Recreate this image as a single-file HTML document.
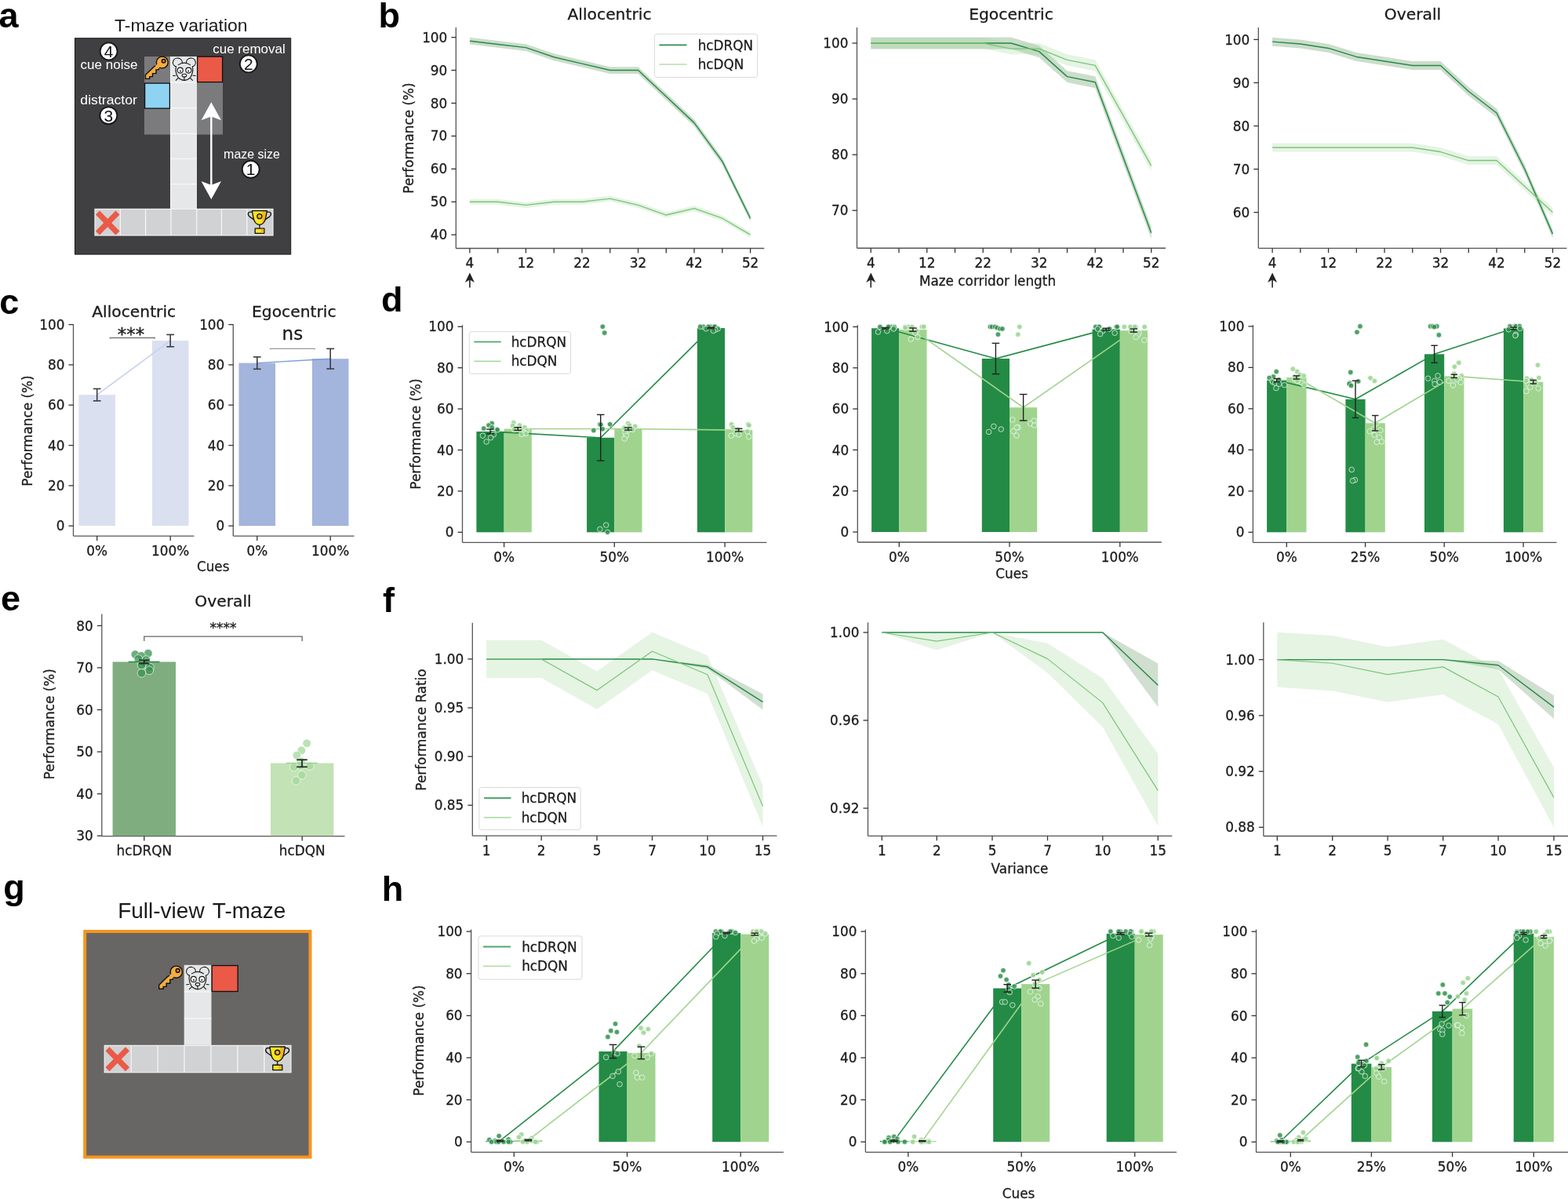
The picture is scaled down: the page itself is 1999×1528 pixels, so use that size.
<!DOCTYPE html>
<html><head><meta charset="utf-8"><title>Figure</title>
<style>html,body{margin:0;padding:0;background:#fff;}svg{display:block;}</style>
</head><body>
<svg width="1999" height="1528" viewBox="0 0 1999 1528">
<rect width="1999" height="1528" fill="#fff"/>
<polygon points="598.9,47.81 634.67,52 670.44,56.2 706.21,68.36 741.98,76.74 777.75,85.13 813.52,85.13 849.29,118.67 885.06,152.22 920.83,201.27 956.6,273.81 956.6,282.62 920.83,210.08 885.06,161.02 849.29,127.48 813.52,93.93 777.75,93.93 741.98,85.55 706.21,77.16 670.44,65 634.67,60.81 598.9,56.61" fill="#3b7a3b" fill-opacity="0.26"/>
<polygon points="598.9,253.69 634.67,253.69 670.44,257.88 706.21,253.69 741.98,253.69 777.75,249.49 813.52,257.88 849.29,270.46 885.06,262.07 920.83,274.65 956.6,295.62 956.6,302.74 920.83,281.78 885.06,269.2 849.29,277.59 813.52,265.01 777.75,256.62 741.98,260.81 706.21,260.81 670.44,265.01 634.67,260.81 598.9,260.81" fill="#a1d99b" fill-opacity="0.28"/>
<polyline points="598.9,52.21 634.67,56.41 670.44,60.6 706.21,72.76 741.98,81.14 777.75,89.53 813.52,89.53 849.29,123.07 885.06,156.62 920.83,205.68 956.6,278.21" fill="none" stroke="#238b45" stroke-width="1.45" stroke-linejoin="round" />
<polyline points="598.9,257.25 634.67,257.25 670.44,261.44 706.21,257.25 741.98,257.25 777.75,253.06 813.52,261.44 849.29,274.02 885.06,265.64 920.83,278.21 956.6,299.18" fill="none" stroke="#7cc47a" stroke-width="1.35" stroke-linejoin="round" />
<line x1="581.3" y1="35" x2="581.3" y2="316.5" stroke="#555555" stroke-width="1.3" />
<line x1="581.3" y1="316.5" x2="974.3" y2="316.5" stroke="#555555" stroke-width="1.3" />
<line x1="575.3" y1="47.6" x2="581.3" y2="47.6" stroke="#333" stroke-width="1.3" />
<text x="570.3" y="53.7" font-size="16.85" text-anchor="end" fill="#1a1a1a" font-family="'DejaVu Sans','Liberation Sans',sans-serif" font-weight="normal"  stroke="#1a1a1a" stroke-width="0.28">100</text>
<line x1="575.3" y1="89.53" x2="581.3" y2="89.53" stroke="#333" stroke-width="1.3" />
<text x="570.3" y="95.63" font-size="16.85" text-anchor="end" fill="#1a1a1a" font-family="'DejaVu Sans','Liberation Sans',sans-serif" font-weight="normal"  stroke="#1a1a1a" stroke-width="0.28">90</text>
<line x1="575.3" y1="131.46" x2="581.3" y2="131.46" stroke="#333" stroke-width="1.3" />
<text x="570.3" y="137.56" font-size="16.85" text-anchor="end" fill="#1a1a1a" font-family="'DejaVu Sans','Liberation Sans',sans-serif" font-weight="normal"  stroke="#1a1a1a" stroke-width="0.28">80</text>
<line x1="575.3" y1="173.39" x2="581.3" y2="173.39" stroke="#333" stroke-width="1.3" />
<text x="570.3" y="179.49" font-size="16.85" text-anchor="end" fill="#1a1a1a" font-family="'DejaVu Sans','Liberation Sans',sans-serif" font-weight="normal"  stroke="#1a1a1a" stroke-width="0.28">70</text>
<line x1="575.3" y1="215.32" x2="581.3" y2="215.32" stroke="#333" stroke-width="1.3" />
<text x="570.3" y="221.42" font-size="16.85" text-anchor="end" fill="#1a1a1a" font-family="'DejaVu Sans','Liberation Sans',sans-serif" font-weight="normal"  stroke="#1a1a1a" stroke-width="0.28">60</text>
<line x1="575.3" y1="257.25" x2="581.3" y2="257.25" stroke="#333" stroke-width="1.3" />
<text x="570.3" y="263.35" font-size="16.85" text-anchor="end" fill="#1a1a1a" font-family="'DejaVu Sans','Liberation Sans',sans-serif" font-weight="normal"  stroke="#1a1a1a" stroke-width="0.28">50</text>
<line x1="575.3" y1="299.18" x2="581.3" y2="299.18" stroke="#333" stroke-width="1.3" />
<text x="570.3" y="305.28" font-size="16.85" text-anchor="end" fill="#1a1a1a" font-family="'DejaVu Sans','Liberation Sans',sans-serif" font-weight="normal"  stroke="#1a1a1a" stroke-width="0.28">40</text>
<line x1="598.9" y1="316.5" x2="598.9" y2="322.5" stroke="#333" stroke-width="1.3" />
<text x="598.9" y="341" font-size="16.85" text-anchor="middle" fill="#1a1a1a" font-family="'DejaVu Sans','Liberation Sans',sans-serif" font-weight="normal"  stroke="#1a1a1a" stroke-width="0.28">4</text>
<line x1="634.67" y1="316.5" x2="634.67" y2="322.5" stroke="#333" stroke-width="1.3" />
<line x1="670.44" y1="316.5" x2="670.44" y2="322.5" stroke="#333" stroke-width="1.3" />
<text x="670.44" y="341" font-size="16.85" text-anchor="middle" fill="#1a1a1a" font-family="'DejaVu Sans','Liberation Sans',sans-serif" font-weight="normal"  stroke="#1a1a1a" stroke-width="0.28">12</text>
<line x1="706.21" y1="316.5" x2="706.21" y2="322.5" stroke="#333" stroke-width="1.3" />
<line x1="741.98" y1="316.5" x2="741.98" y2="322.5" stroke="#333" stroke-width="1.3" />
<text x="741.98" y="341" font-size="16.85" text-anchor="middle" fill="#1a1a1a" font-family="'DejaVu Sans','Liberation Sans',sans-serif" font-weight="normal"  stroke="#1a1a1a" stroke-width="0.28">22</text>
<line x1="777.75" y1="316.5" x2="777.75" y2="322.5" stroke="#333" stroke-width="1.3" />
<line x1="813.52" y1="316.5" x2="813.52" y2="322.5" stroke="#333" stroke-width="1.3" />
<text x="813.52" y="341" font-size="16.85" text-anchor="middle" fill="#1a1a1a" font-family="'DejaVu Sans','Liberation Sans',sans-serif" font-weight="normal"  stroke="#1a1a1a" stroke-width="0.28">32</text>
<line x1="849.29" y1="316.5" x2="849.29" y2="322.5" stroke="#333" stroke-width="1.3" />
<line x1="885.06" y1="316.5" x2="885.06" y2="322.5" stroke="#333" stroke-width="1.3" />
<text x="885.06" y="341" font-size="16.85" text-anchor="middle" fill="#1a1a1a" font-family="'DejaVu Sans','Liberation Sans',sans-serif" font-weight="normal"  stroke="#1a1a1a" stroke-width="0.28">42</text>
<line x1="920.83" y1="316.5" x2="920.83" y2="322.5" stroke="#333" stroke-width="1.3" />
<line x1="956.6" y1="316.5" x2="956.6" y2="322.5" stroke="#333" stroke-width="1.3" />
<text x="956.6" y="341" font-size="16.85" text-anchor="middle" fill="#1a1a1a" font-family="'DejaVu Sans','Liberation Sans',sans-serif" font-weight="normal"  stroke="#1a1a1a" stroke-width="0.28">52</text>
<text x="777" y="24.5" font-size="20.3" text-anchor="middle" fill="#1a1a1a" font-family="'DejaVu Sans','Liberation Sans',sans-serif" font-weight="normal"  stroke="#1a1a1a" stroke-width="0.28">Allocentric</text>
<line x1="598.9" y1="354" x2="598.9" y2="366.5" stroke="#222" stroke-width="1.6" />
<polygon points="598.9,347.5 592.9,360 598.9,356.5 604.9,360" fill="#222" />
<polygon points="1110.25,47.54 1146,47.54 1181.75,47.54 1217.5,47.54 1253.25,47.54 1289,47.54 1324.75,58.2 1360.5,90.18 1396.25,97.29 1432,193.25 1467.75,289.21 1467.75,304.14 1432,208.18 1396.25,112.22 1360.5,105.11 1324.75,73.13 1289,62.46 1253.25,62.46 1217.5,62.46 1181.75,62.46 1146,62.46 1110.25,62.46" fill="#3b7a3b" fill-opacity="0.26"/>
<polygon points="1110.25,47.89 1146,47.89 1181.75,47.89 1217.5,47.89 1253.25,47.89 1289,55 1324.75,55 1360.5,69.22 1396.25,76.32 1432,140.3 1467.75,204.27 1467.75,218.48 1432,154.51 1396.25,90.54 1360.5,83.43 1324.75,69.22 1289,69.22 1253.25,62.11 1217.5,62.11 1181.75,62.11 1146,62.11 1110.25,62.11" fill="#a1d99b" fill-opacity="0.28"/>
<polyline points="1110.25,55 1146,55 1181.75,55 1217.5,55 1253.25,55 1289,55 1324.75,65.66 1360.5,97.65 1396.25,104.76 1432,200.71 1467.75,296.67" fill="none" stroke="#238b45" stroke-width="1.45" stroke-linejoin="round" />
<polyline points="1110.25,55 1146,55 1181.75,55 1217.5,55 1253.25,55 1289,62.11 1324.75,62.11 1360.5,76.32 1396.25,83.43 1432,147.4 1467.75,211.38" fill="none" stroke="#7cc47a" stroke-width="1.35" stroke-linejoin="round" />
<line x1="1092.5" y1="35" x2="1092.5" y2="316.25" stroke="#555555" stroke-width="1.3" />
<line x1="1092.5" y1="316.25" x2="1486" y2="316.25" stroke="#555555" stroke-width="1.3" />
<line x1="1086.5" y1="55" x2="1092.5" y2="55" stroke="#333" stroke-width="1.3" />
<text x="1081.5" y="61.1" font-size="16.85" text-anchor="end" fill="#1a1a1a" font-family="'DejaVu Sans','Liberation Sans',sans-serif" font-weight="normal"  stroke="#1a1a1a" stroke-width="0.28">100</text>
<line x1="1086.5" y1="126.08" x2="1092.5" y2="126.08" stroke="#333" stroke-width="1.3" />
<text x="1081.5" y="132.18" font-size="16.85" text-anchor="end" fill="#1a1a1a" font-family="'DejaVu Sans','Liberation Sans',sans-serif" font-weight="normal"  stroke="#1a1a1a" stroke-width="0.28">90</text>
<line x1="1086.5" y1="197.16" x2="1092.5" y2="197.16" stroke="#333" stroke-width="1.3" />
<text x="1081.5" y="203.26" font-size="16.85" text-anchor="end" fill="#1a1a1a" font-family="'DejaVu Sans','Liberation Sans',sans-serif" font-weight="normal"  stroke="#1a1a1a" stroke-width="0.28">80</text>
<line x1="1086.5" y1="268.24" x2="1092.5" y2="268.24" stroke="#333" stroke-width="1.3" />
<text x="1081.5" y="274.34" font-size="16.85" text-anchor="end" fill="#1a1a1a" font-family="'DejaVu Sans','Liberation Sans',sans-serif" font-weight="normal"  stroke="#1a1a1a" stroke-width="0.28">70</text>
<line x1="1110.25" y1="316.25" x2="1110.25" y2="322.25" stroke="#333" stroke-width="1.3" />
<text x="1110.25" y="340.75" font-size="16.85" text-anchor="middle" fill="#1a1a1a" font-family="'DejaVu Sans','Liberation Sans',sans-serif" font-weight="normal"  stroke="#1a1a1a" stroke-width="0.28">4</text>
<line x1="1146" y1="316.25" x2="1146" y2="322.25" stroke="#333" stroke-width="1.3" />
<line x1="1181.75" y1="316.25" x2="1181.75" y2="322.25" stroke="#333" stroke-width="1.3" />
<text x="1181.75" y="340.75" font-size="16.85" text-anchor="middle" fill="#1a1a1a" font-family="'DejaVu Sans','Liberation Sans',sans-serif" font-weight="normal"  stroke="#1a1a1a" stroke-width="0.28">12</text>
<line x1="1217.5" y1="316.25" x2="1217.5" y2="322.25" stroke="#333" stroke-width="1.3" />
<line x1="1253.25" y1="316.25" x2="1253.25" y2="322.25" stroke="#333" stroke-width="1.3" />
<text x="1253.25" y="340.75" font-size="16.85" text-anchor="middle" fill="#1a1a1a" font-family="'DejaVu Sans','Liberation Sans',sans-serif" font-weight="normal"  stroke="#1a1a1a" stroke-width="0.28">22</text>
<line x1="1289" y1="316.25" x2="1289" y2="322.25" stroke="#333" stroke-width="1.3" />
<line x1="1324.75" y1="316.25" x2="1324.75" y2="322.25" stroke="#333" stroke-width="1.3" />
<text x="1324.75" y="340.75" font-size="16.85" text-anchor="middle" fill="#1a1a1a" font-family="'DejaVu Sans','Liberation Sans',sans-serif" font-weight="normal"  stroke="#1a1a1a" stroke-width="0.28">32</text>
<line x1="1360.5" y1="316.25" x2="1360.5" y2="322.25" stroke="#333" stroke-width="1.3" />
<line x1="1396.25" y1="316.25" x2="1396.25" y2="322.25" stroke="#333" stroke-width="1.3" />
<text x="1396.25" y="340.75" font-size="16.85" text-anchor="middle" fill="#1a1a1a" font-family="'DejaVu Sans','Liberation Sans',sans-serif" font-weight="normal"  stroke="#1a1a1a" stroke-width="0.28">42</text>
<line x1="1432" y1="316.25" x2="1432" y2="322.25" stroke="#333" stroke-width="1.3" />
<line x1="1467.75" y1="316.25" x2="1467.75" y2="322.25" stroke="#333" stroke-width="1.3" />
<text x="1467.75" y="340.75" font-size="16.85" text-anchor="middle" fill="#1a1a1a" font-family="'DejaVu Sans','Liberation Sans',sans-serif" font-weight="normal"  stroke="#1a1a1a" stroke-width="0.28">52</text>
<text x="1289" y="24.5" font-size="20.3" text-anchor="middle" fill="#1a1a1a" font-family="'DejaVu Sans','Liberation Sans',sans-serif" font-weight="normal"  stroke="#1a1a1a" stroke-width="0.28">Egocentric</text>
<line x1="1110.25" y1="354" x2="1110.25" y2="366.5" stroke="#222" stroke-width="1.6" />
<polygon points="1110.25,347.5 1104.25,360 1110.25,356.5 1116.25,360" fill="#222" />
<polygon points="1622.1,47.65 1657.84,50.4 1693.58,55.91 1729.32,66.91 1765.06,72.42 1800.8,77.92 1836.54,77.92 1872.28,110.95 1908.02,138.48 1943.76,210.05 1979.5,292.62 1979.5,303.63 1943.76,221.06 1908.02,149.49 1872.28,121.97 1836.54,88.94 1800.8,88.94 1765.06,83.43 1729.32,77.92 1693.58,66.91 1657.84,61.41 1622.1,58.66" fill="#3b7a3b" fill-opacity="0.26"/>
<polygon points="1622.1,182.52 1657.84,182.52 1693.58,182.52 1729.32,182.52 1765.06,182.52 1800.8,182.52 1836.54,188.03 1872.28,199.03 1908.02,199.03 1943.76,232.06 1979.5,265.09 1979.5,276.1 1943.76,243.07 1908.02,210.05 1872.28,210.05 1836.54,199.03 1800.8,193.53 1765.06,193.53 1729.32,193.53 1693.58,193.53 1657.84,193.53 1622.1,193.53" fill="#a1d99b" fill-opacity="0.28"/>
<polyline points="1622.1,53.15 1657.84,55.91 1693.58,61.41 1729.32,72.42 1765.06,77.92 1800.8,83.43 1836.54,83.43 1872.28,116.46 1908.02,143.98 1943.76,215.55 1979.5,298.12" fill="none" stroke="#238b45" stroke-width="1.45" stroke-linejoin="round" />
<polyline points="1622.1,188.03 1657.84,188.03 1693.58,188.03 1729.32,188.03 1765.06,188.03 1800.8,188.03 1836.54,193.53 1872.28,204.54 1908.02,204.54 1943.76,237.57 1979.5,270.6" fill="none" stroke="#7cc47a" stroke-width="1.35" stroke-linejoin="round" />
<line x1="1604.3" y1="35" x2="1604.3" y2="316.3" stroke="#555555" stroke-width="1.3" />
<line x1="1604.3" y1="316.3" x2="1997.5" y2="316.3" stroke="#555555" stroke-width="1.3" />
<line x1="1598.3" y1="50.4" x2="1604.3" y2="50.4" stroke="#333" stroke-width="1.3" />
<text x="1593.3" y="56.5" font-size="16.85" text-anchor="end" fill="#1a1a1a" font-family="'DejaVu Sans','Liberation Sans',sans-serif" font-weight="normal"  stroke="#1a1a1a" stroke-width="0.28">100</text>
<line x1="1598.3" y1="105.45" x2="1604.3" y2="105.45" stroke="#333" stroke-width="1.3" />
<text x="1593.3" y="111.55" font-size="16.85" text-anchor="end" fill="#1a1a1a" font-family="'DejaVu Sans','Liberation Sans',sans-serif" font-weight="normal"  stroke="#1a1a1a" stroke-width="0.28">90</text>
<line x1="1598.3" y1="160.5" x2="1604.3" y2="160.5" stroke="#333" stroke-width="1.3" />
<text x="1593.3" y="166.6" font-size="16.85" text-anchor="end" fill="#1a1a1a" font-family="'DejaVu Sans','Liberation Sans',sans-serif" font-weight="normal"  stroke="#1a1a1a" stroke-width="0.28">80</text>
<line x1="1598.3" y1="215.55" x2="1604.3" y2="215.55" stroke="#333" stroke-width="1.3" />
<text x="1593.3" y="221.65" font-size="16.85" text-anchor="end" fill="#1a1a1a" font-family="'DejaVu Sans','Liberation Sans',sans-serif" font-weight="normal"  stroke="#1a1a1a" stroke-width="0.28">70</text>
<line x1="1598.3" y1="270.6" x2="1604.3" y2="270.6" stroke="#333" stroke-width="1.3" />
<text x="1593.3" y="276.7" font-size="16.85" text-anchor="end" fill="#1a1a1a" font-family="'DejaVu Sans','Liberation Sans',sans-serif" font-weight="normal"  stroke="#1a1a1a" stroke-width="0.28">60</text>
<line x1="1622.1" y1="316.3" x2="1622.1" y2="322.3" stroke="#333" stroke-width="1.3" />
<text x="1622.1" y="340.8" font-size="16.85" text-anchor="middle" fill="#1a1a1a" font-family="'DejaVu Sans','Liberation Sans',sans-serif" font-weight="normal"  stroke="#1a1a1a" stroke-width="0.28">4</text>
<line x1="1657.84" y1="316.3" x2="1657.84" y2="322.3" stroke="#333" stroke-width="1.3" />
<line x1="1693.58" y1="316.3" x2="1693.58" y2="322.3" stroke="#333" stroke-width="1.3" />
<text x="1693.58" y="340.8" font-size="16.85" text-anchor="middle" fill="#1a1a1a" font-family="'DejaVu Sans','Liberation Sans',sans-serif" font-weight="normal"  stroke="#1a1a1a" stroke-width="0.28">12</text>
<line x1="1729.32" y1="316.3" x2="1729.32" y2="322.3" stroke="#333" stroke-width="1.3" />
<line x1="1765.06" y1="316.3" x2="1765.06" y2="322.3" stroke="#333" stroke-width="1.3" />
<text x="1765.06" y="340.8" font-size="16.85" text-anchor="middle" fill="#1a1a1a" font-family="'DejaVu Sans','Liberation Sans',sans-serif" font-weight="normal"  stroke="#1a1a1a" stroke-width="0.28">22</text>
<line x1="1800.8" y1="316.3" x2="1800.8" y2="322.3" stroke="#333" stroke-width="1.3" />
<line x1="1836.54" y1="316.3" x2="1836.54" y2="322.3" stroke="#333" stroke-width="1.3" />
<text x="1836.54" y="340.8" font-size="16.85" text-anchor="middle" fill="#1a1a1a" font-family="'DejaVu Sans','Liberation Sans',sans-serif" font-weight="normal"  stroke="#1a1a1a" stroke-width="0.28">32</text>
<line x1="1872.28" y1="316.3" x2="1872.28" y2="322.3" stroke="#333" stroke-width="1.3" />
<line x1="1908.02" y1="316.3" x2="1908.02" y2="322.3" stroke="#333" stroke-width="1.3" />
<text x="1908.02" y="340.8" font-size="16.85" text-anchor="middle" fill="#1a1a1a" font-family="'DejaVu Sans','Liberation Sans',sans-serif" font-weight="normal"  stroke="#1a1a1a" stroke-width="0.28">42</text>
<line x1="1943.76" y1="316.3" x2="1943.76" y2="322.3" stroke="#333" stroke-width="1.3" />
<line x1="1979.5" y1="316.3" x2="1979.5" y2="322.3" stroke="#333" stroke-width="1.3" />
<text x="1979.5" y="340.8" font-size="16.85" text-anchor="middle" fill="#1a1a1a" font-family="'DejaVu Sans','Liberation Sans',sans-serif" font-weight="normal"  stroke="#1a1a1a" stroke-width="0.28">52</text>
<text x="1801" y="24.5" font-size="20.3" text-anchor="middle" fill="#1a1a1a" font-family="'DejaVu Sans','Liberation Sans',sans-serif" font-weight="normal"  stroke="#1a1a1a" stroke-width="0.28">Overall</text>
<line x1="1622.1" y1="354" x2="1622.1" y2="366.5" stroke="#222" stroke-width="1.6" />
<polygon points="1622.1,347.5 1616.1,360 1622.1,356.5 1628.1,360" fill="#222" />
<text x="527" y="176" font-size="16.85" text-anchor="middle" fill="#1a1a1a" stroke="#1a1a1a" stroke-width="0.28" font-family="'DejaVu Sans','Liberation Sans',sans-serif" transform="rotate(-90 527 176)">Performance (%)</text>
<text x="1259" y="364.3" font-size="16.85" text-anchor="middle" fill="#1a1a1a" font-family="'DejaVu Sans','Liberation Sans',sans-serif" font-weight="normal"  stroke="#1a1a1a" stroke-width="0.28">Maze corridor length</text>
<rect x="834.4" y="43.4" width="131.3" height="55.1" rx="3" fill="#fff" fill-opacity="0.8" stroke="#d9d9d9" stroke-width="1"/>
<line x1="840.4" y1="57.4" x2="875.6" y2="57.4" stroke="#2a8f4c" stroke-width="1.6" />
<line x1="840.4" y1="82" x2="875.6" y2="82" stroke="#b3dfa8" stroke-width="1.6" />
<text x="889.7" y="63.5" font-size="16.85" text-anchor="start" fill="#1a1a1a" font-family="'DejaVu Sans','Liberation Sans',sans-serif" font-weight="normal"  stroke="#1a1a1a" stroke-width="0.28">hcDRQN</text>
<text x="889.7" y="88.1" font-size="16.85" text-anchor="start" fill="#1a1a1a" font-family="'DejaVu Sans','Liberation Sans',sans-serif" font-weight="normal"  stroke="#1a1a1a" stroke-width="0.28">hcDQN</text>
<line x1="589.5" y1="414.2" x2="589.5" y2="691.3" stroke="#555555" stroke-width="1.3" />
<line x1="589.5" y1="691.3" x2="977.4" y2="691.3" stroke="#555555" stroke-width="1.3" />
<line x1="583.5" y1="678.3" x2="589.5" y2="678.3" stroke="#333" stroke-width="1.3" />
<text x="578.5" y="684.4" font-size="16.85" text-anchor="end" fill="#1a1a1a" font-family="'DejaVu Sans','Liberation Sans',sans-serif" font-weight="normal"  stroke="#1a1a1a" stroke-width="0.28">0</text>
<line x1="583.5" y1="625.9" x2="589.5" y2="625.9" stroke="#333" stroke-width="1.3" />
<text x="578.5" y="632" font-size="16.85" text-anchor="end" fill="#1a1a1a" font-family="'DejaVu Sans','Liberation Sans',sans-serif" font-weight="normal"  stroke="#1a1a1a" stroke-width="0.28">20</text>
<line x1="583.5" y1="573.5" x2="589.5" y2="573.5" stroke="#333" stroke-width="1.3" />
<text x="578.5" y="579.6" font-size="16.85" text-anchor="end" fill="#1a1a1a" font-family="'DejaVu Sans','Liberation Sans',sans-serif" font-weight="normal"  stroke="#1a1a1a" stroke-width="0.28">40</text>
<line x1="583.5" y1="521.1" x2="589.5" y2="521.1" stroke="#333" stroke-width="1.3" />
<text x="578.5" y="527.2" font-size="16.85" text-anchor="end" fill="#1a1a1a" font-family="'DejaVu Sans','Liberation Sans',sans-serif" font-weight="normal"  stroke="#1a1a1a" stroke-width="0.28">60</text>
<line x1="583.5" y1="468.7" x2="589.5" y2="468.7" stroke="#333" stroke-width="1.3" />
<text x="578.5" y="474.8" font-size="16.85" text-anchor="end" fill="#1a1a1a" font-family="'DejaVu Sans','Liberation Sans',sans-serif" font-weight="normal"  stroke="#1a1a1a" stroke-width="0.28">80</text>
<line x1="583.5" y1="416.3" x2="589.5" y2="416.3" stroke="#333" stroke-width="1.3" />
<text x="578.5" y="422.4" font-size="16.85" text-anchor="end" fill="#1a1a1a" font-family="'DejaVu Sans','Liberation Sans',sans-serif" font-weight="normal"  stroke="#1a1a1a" stroke-width="0.28">100</text>
<line x1="642.6" y1="691.3" x2="642.6" y2="697.3" stroke="#333" stroke-width="1.3" />
<text x="642.6" y="715.8" font-size="16.85" text-anchor="middle" fill="#1a1a1a" font-family="'DejaVu Sans','Liberation Sans',sans-serif" font-weight="normal"  stroke="#1a1a1a" stroke-width="0.28">0%</text>
<line x1="783.3" y1="691.3" x2="783.3" y2="697.3" stroke="#333" stroke-width="1.3" />
<text x="783.3" y="715.8" font-size="16.85" text-anchor="middle" fill="#1a1a1a" font-family="'DejaVu Sans','Liberation Sans',sans-serif" font-weight="normal"  stroke="#1a1a1a" stroke-width="0.28">50%</text>
<line x1="924.1" y1="691.3" x2="924.1" y2="697.3" stroke="#333" stroke-width="1.3" />
<text x="924.1" y="715.8" font-size="16.85" text-anchor="middle" fill="#1a1a1a" font-family="'DejaVu Sans','Liberation Sans',sans-serif" font-weight="normal"  stroke="#1a1a1a" stroke-width="0.28">100%</text>
<rect x="607.4" y="549.92" width="35.2" height="128.38" fill="#238b45" />
<rect x="748.1" y="557.78" width="35.2" height="120.52" fill="#238b45" />
<rect x="888.9" y="418.13" width="35.2" height="260.17" fill="#238b45" />
<rect x="642.6" y="546.51" width="35.2" height="131.79" fill="#a0d48e" />
<rect x="783.3" y="546.51" width="35.2" height="131.79" fill="#a0d48e" />
<rect x="924.1" y="548.09" width="35.2" height="130.21" fill="#a0d48e" />
<polyline points="625,549.92 765.7,557.78 906.5,418.13" fill="none" stroke="#238b45" stroke-width="1.6" stroke-linejoin="round" />
<polyline points="660.2,546.51 800.9,546.51 941.7,548.09" fill="none" stroke="#a0d48e" stroke-width="1.6" stroke-linejoin="round" />
<circle cx="627.01" cy="539.44" r="3.3" fill="#2f8f4a" fill-opacity="0.85" stroke="#fff" stroke-opacity="0.85" stroke-width="0.8"/>
<circle cx="623" cy="542.06" r="3.3" fill="#2f8f4a" fill-opacity="0.85" stroke="#fff" stroke-opacity="0.85" stroke-width="0.8"/>
<circle cx="627.2" cy="544.68" r="3.3" fill="#2f8f4a" fill-opacity="0.85" stroke="#fff" stroke-opacity="0.85" stroke-width="0.8"/>
<circle cx="616.72" cy="545.99" r="3.3" fill="#2f8f4a" fill-opacity="0.85" stroke="#fff" stroke-opacity="0.85" stroke-width="0.8"/>
<circle cx="633.82" cy="547.3" r="3.3" fill="#2f8f4a" fill-opacity="0.85" stroke="#fff" stroke-opacity="0.85" stroke-width="0.8"/>
<circle cx="634.11" cy="547.82" r="3.3" fill="#2f8f4a" fill-opacity="0.85" stroke="#fff" stroke-opacity="0.85" stroke-width="0.8"/>
<circle cx="629.32" cy="553.85" r="3.3" fill="#2f8f4a" fill-opacity="0.85" stroke="#fff" stroke-opacity="0.85" stroke-width="0.8"/>
<circle cx="615.43" cy="555.16" r="3.3" fill="#2f8f4a" fill-opacity="0.85" stroke="#fff" stroke-opacity="0.85" stroke-width="0.8"/>
<circle cx="625.58" cy="557.78" r="3.3" fill="#2f8f4a" fill-opacity="0.85" stroke="#fff" stroke-opacity="0.85" stroke-width="0.8"/>
<circle cx="620.15" cy="563.02" r="3.3" fill="#2f8f4a" fill-opacity="0.85" stroke="#fff" stroke-opacity="0.85" stroke-width="0.8"/>
<circle cx="768.3" cy="416.3" r="3.3" fill="#2f8f4a" fill-opacity="0.85" stroke="#fff" stroke-opacity="0.85" stroke-width="0.8"/>
<circle cx="770.7" cy="424.16" r="3.3" fill="#2f8f4a" fill-opacity="0.85" stroke="#fff" stroke-opacity="0.85" stroke-width="0.8"/>
<circle cx="777.65" cy="540.75" r="3.3" fill="#2f8f4a" fill-opacity="0.85" stroke="#fff" stroke-opacity="0.85" stroke-width="0.8"/>
<circle cx="764.73" cy="540.75" r="3.3" fill="#2f8f4a" fill-opacity="0.85" stroke="#fff" stroke-opacity="0.85" stroke-width="0.8"/>
<circle cx="765.92" cy="541.27" r="3.3" fill="#2f8f4a" fill-opacity="0.85" stroke="#fff" stroke-opacity="0.85" stroke-width="0.8"/>
<circle cx="768.16" cy="546.78" r="3.3" fill="#2f8f4a" fill-opacity="0.85" stroke="#fff" stroke-opacity="0.85" stroke-width="0.8"/>
<circle cx="756.82" cy="548.61" r="3.3" fill="#2f8f4a" fill-opacity="0.85" stroke="#fff" stroke-opacity="0.85" stroke-width="0.8"/>
<circle cx="772.7" cy="669.13" r="3.3" fill="#2f8f4a" fill-opacity="0.85" stroke="#fff" stroke-opacity="0.85" stroke-width="0.8"/>
<circle cx="764.9" cy="674.37" r="3.3" fill="#2f8f4a" fill-opacity="0.85" stroke="#fff" stroke-opacity="0.85" stroke-width="0.8"/>
<circle cx="774.5" cy="678.3" r="3.3" fill="#2f8f4a" fill-opacity="0.85" stroke="#fff" stroke-opacity="0.85" stroke-width="0.8"/>
<circle cx="905.78" cy="416.3" r="3.3" fill="#2f8f4a" fill-opacity="0.85" stroke="#fff" stroke-opacity="0.85" stroke-width="0.8"/>
<circle cx="910.93" cy="416.3" r="3.3" fill="#2f8f4a" fill-opacity="0.85" stroke="#fff" stroke-opacity="0.85" stroke-width="0.8"/>
<circle cx="911.19" cy="416.3" r="3.3" fill="#2f8f4a" fill-opacity="0.85" stroke="#fff" stroke-opacity="0.85" stroke-width="0.8"/>
<circle cx="896.44" cy="416.3" r="3.3" fill="#2f8f4a" fill-opacity="0.85" stroke="#fff" stroke-opacity="0.85" stroke-width="0.8"/>
<circle cx="892.73" cy="416.3" r="3.3" fill="#2f8f4a" fill-opacity="0.85" stroke="#fff" stroke-opacity="0.85" stroke-width="0.8"/>
<circle cx="902.97" cy="416.3" r="3.3" fill="#2f8f4a" fill-opacity="0.85" stroke="#fff" stroke-opacity="0.85" stroke-width="0.8"/>
<circle cx="900.14" cy="418.92" r="3.3" fill="#2f8f4a" fill-opacity="0.85" stroke="#fff" stroke-opacity="0.85" stroke-width="0.8"/>
<circle cx="915.24" cy="418.92" r="3.3" fill="#2f8f4a" fill-opacity="0.85" stroke="#fff" stroke-opacity="0.85" stroke-width="0.8"/>
<circle cx="911.87" cy="420.23" r="3.3" fill="#2f8f4a" fill-opacity="0.85" stroke="#fff" stroke-opacity="0.85" stroke-width="0.8"/>
<circle cx="909.36" cy="421.54" r="3.3" fill="#2f8f4a" fill-opacity="0.85" stroke="#fff" stroke-opacity="0.85" stroke-width="0.8"/>
<circle cx="654.79" cy="538.65" r="3.3" fill="#98d48f" fill-opacity="0.85" stroke="#fff" stroke-opacity="0.85" stroke-width="0.8"/>
<circle cx="662.4" cy="542.06" r="3.3" fill="#98d48f" fill-opacity="0.85" stroke="#fff" stroke-opacity="0.85" stroke-width="0.8"/>
<circle cx="653.6" cy="542.58" r="3.3" fill="#98d48f" fill-opacity="0.85" stroke="#fff" stroke-opacity="0.85" stroke-width="0.8"/>
<circle cx="668.87" cy="544.68" r="3.3" fill="#98d48f" fill-opacity="0.85" stroke="#fff" stroke-opacity="0.85" stroke-width="0.8"/>
<circle cx="659.28" cy="545.99" r="3.3" fill="#98d48f" fill-opacity="0.85" stroke="#fff" stroke-opacity="0.85" stroke-width="0.8"/>
<circle cx="655.48" cy="547.3" r="3.3" fill="#98d48f" fill-opacity="0.85" stroke="#fff" stroke-opacity="0.85" stroke-width="0.8"/>
<circle cx="671.37" cy="548.61" r="3.3" fill="#98d48f" fill-opacity="0.85" stroke="#fff" stroke-opacity="0.85" stroke-width="0.8"/>
<circle cx="668.43" cy="551.23" r="3.3" fill="#98d48f" fill-opacity="0.85" stroke="#fff" stroke-opacity="0.85" stroke-width="0.8"/>
<circle cx="670.33" cy="552.54" r="3.3" fill="#98d48f" fill-opacity="0.85" stroke="#fff" stroke-opacity="0.85" stroke-width="0.8"/>
<circle cx="664.87" cy="553.33" r="3.3" fill="#98d48f" fill-opacity="0.85" stroke="#fff" stroke-opacity="0.85" stroke-width="0.8"/>
<circle cx="800.74" cy="539.44" r="3.3" fill="#98d48f" fill-opacity="0.85" stroke="#fff" stroke-opacity="0.85" stroke-width="0.8"/>
<circle cx="802.5" cy="542.06" r="3.3" fill="#98d48f" fill-opacity="0.85" stroke="#fff" stroke-opacity="0.85" stroke-width="0.8"/>
<circle cx="809.62" cy="543.37" r="3.3" fill="#98d48f" fill-opacity="0.85" stroke="#fff" stroke-opacity="0.85" stroke-width="0.8"/>
<circle cx="795.85" cy="544.68" r="3.3" fill="#98d48f" fill-opacity="0.85" stroke="#fff" stroke-opacity="0.85" stroke-width="0.8"/>
<circle cx="795.86" cy="545.99" r="3.3" fill="#98d48f" fill-opacity="0.85" stroke="#fff" stroke-opacity="0.85" stroke-width="0.8"/>
<circle cx="806.34" cy="547.3" r="3.3" fill="#98d48f" fill-opacity="0.85" stroke="#fff" stroke-opacity="0.85" stroke-width="0.8"/>
<circle cx="800.51" cy="548.61" r="3.3" fill="#98d48f" fill-opacity="0.85" stroke="#fff" stroke-opacity="0.85" stroke-width="0.8"/>
<circle cx="796.94" cy="551.23" r="3.3" fill="#98d48f" fill-opacity="0.85" stroke="#fff" stroke-opacity="0.85" stroke-width="0.8"/>
<circle cx="798.24" cy="555.16" r="3.3" fill="#98d48f" fill-opacity="0.85" stroke="#fff" stroke-opacity="0.85" stroke-width="0.8"/>
<circle cx="796.11" cy="559.09" r="3.3" fill="#98d48f" fill-opacity="0.85" stroke="#fff" stroke-opacity="0.85" stroke-width="0.8"/>
<circle cx="953.75" cy="540.75" r="3.3" fill="#98d48f" fill-opacity="0.85" stroke="#fff" stroke-opacity="0.85" stroke-width="0.8"/>
<circle cx="932.49" cy="540.75" r="3.3" fill="#98d48f" fill-opacity="0.85" stroke="#fff" stroke-opacity="0.85" stroke-width="0.8"/>
<circle cx="954.95" cy="542.06" r="3.3" fill="#98d48f" fill-opacity="0.85" stroke="#fff" stroke-opacity="0.85" stroke-width="0.8"/>
<circle cx="934.33" cy="544.68" r="3.3" fill="#98d48f" fill-opacity="0.85" stroke="#fff" stroke-opacity="0.85" stroke-width="0.8"/>
<circle cx="940.71" cy="547.3" r="3.3" fill="#98d48f" fill-opacity="0.85" stroke="#fff" stroke-opacity="0.85" stroke-width="0.8"/>
<circle cx="952.9" cy="549.92" r="3.3" fill="#98d48f" fill-opacity="0.85" stroke="#fff" stroke-opacity="0.85" stroke-width="0.8"/>
<circle cx="937.64" cy="552.54" r="3.3" fill="#98d48f" fill-opacity="0.85" stroke="#fff" stroke-opacity="0.85" stroke-width="0.8"/>
<circle cx="941.93" cy="553.85" r="3.3" fill="#98d48f" fill-opacity="0.85" stroke="#fff" stroke-opacity="0.85" stroke-width="0.8"/>
<circle cx="932.17" cy="555.16" r="3.3" fill="#98d48f" fill-opacity="0.85" stroke="#fff" stroke-opacity="0.85" stroke-width="0.8"/>
<circle cx="954.69" cy="556.47" r="3.3" fill="#98d48f" fill-opacity="0.85" stroke="#fff" stroke-opacity="0.85" stroke-width="0.8"/>
<line x1="625" y1="547.04" x2="625" y2="552.8" stroke="#222" stroke-width="1.4" />
<line x1="620.2" y1="547.04" x2="629.8" y2="547.04" stroke="#222" stroke-width="1.4" />
<line x1="620.2" y1="552.8" x2="629.8" y2="552.8" stroke="#222" stroke-width="1.4" />
<line x1="765.7" y1="528.44" x2="765.7" y2="587.12" stroke="#222" stroke-width="1.4" />
<line x1="760.9" y1="528.44" x2="770.5" y2="528.44" stroke="#222" stroke-width="1.4" />
<line x1="760.9" y1="587.12" x2="770.5" y2="587.12" stroke="#222" stroke-width="1.4" />
<line x1="906.5" y1="417.35" x2="906.5" y2="418.92" stroke="#222" stroke-width="1.4" />
<line x1="901.7" y1="417.35" x2="911.3" y2="417.35" stroke="#222" stroke-width="1.4" />
<line x1="901.7" y1="418.92" x2="911.3" y2="418.92" stroke="#222" stroke-width="1.4" />
<line x1="660.2" y1="544.68" x2="660.2" y2="548.35" stroke="#222" stroke-width="1.4" />
<line x1="655.4" y1="544.68" x2="665" y2="544.68" stroke="#222" stroke-width="1.4" />
<line x1="655.4" y1="548.35" x2="665" y2="548.35" stroke="#222" stroke-width="1.4" />
<line x1="800.9" y1="544.94" x2="800.9" y2="548.09" stroke="#222" stroke-width="1.4" />
<line x1="796.1" y1="544.94" x2="805.7" y2="544.94" stroke="#222" stroke-width="1.4" />
<line x1="796.1" y1="548.09" x2="805.7" y2="548.09" stroke="#222" stroke-width="1.4" />
<line x1="941.7" y1="546.25" x2="941.7" y2="549.92" stroke="#222" stroke-width="1.4" />
<line x1="936.9" y1="546.25" x2="946.5" y2="546.25" stroke="#222" stroke-width="1.4" />
<line x1="936.9" y1="549.92" x2="946.5" y2="549.92" stroke="#222" stroke-width="1.4" />
<text x="536" y="553" font-size="16.85" text-anchor="middle" fill="#1a1a1a" stroke="#1a1a1a" stroke-width="0.28" font-family="'DejaVu Sans','Liberation Sans',sans-serif" transform="rotate(-90 536 553)">Performance (%)</text>
<rect x="598.3" y="422.6" width="129.3" height="53.7" rx="3" fill="#fff" fill-opacity="0.8" stroke="#d9d9d9" stroke-width="1"/>
<line x1="604.3" y1="435.6" x2="638.7" y2="435.6" stroke="#4ea86b" stroke-width="1.8" />
<line x1="604.3" y1="460.3" x2="638.7" y2="460.3" stroke="#93d389" stroke-width="1.3" />
<text x="651.7" y="441.7" font-size="16.85" text-anchor="start" fill="#1a1a1a" font-family="'DejaVu Sans','Liberation Sans',sans-serif" font-weight="normal"  stroke="#1a1a1a" stroke-width="0.28">hcDRQN</text>
<text x="651.7" y="466.4" font-size="16.85" text-anchor="start" fill="#1a1a1a" font-family="'DejaVu Sans','Liberation Sans',sans-serif" font-weight="normal"  stroke="#1a1a1a" stroke-width="0.28">hcDQN</text>
<line x1="1093.3" y1="414.2" x2="1093.3" y2="691" stroke="#555555" stroke-width="1.3" />
<line x1="1093.3" y1="691" x2="1480.8" y2="691" stroke="#555555" stroke-width="1.3" />
<line x1="1087.3" y1="678" x2="1093.3" y2="678" stroke="#333" stroke-width="1.3" />
<text x="1082.3" y="684.1" font-size="16.85" text-anchor="end" fill="#1a1a1a" font-family="'DejaVu Sans','Liberation Sans',sans-serif" font-weight="normal"  stroke="#1a1a1a" stroke-width="0.28">0</text>
<line x1="1087.3" y1="625.7" x2="1093.3" y2="625.7" stroke="#333" stroke-width="1.3" />
<text x="1082.3" y="631.8" font-size="16.85" text-anchor="end" fill="#1a1a1a" font-family="'DejaVu Sans','Liberation Sans',sans-serif" font-weight="normal"  stroke="#1a1a1a" stroke-width="0.28">20</text>
<line x1="1087.3" y1="573.4" x2="1093.3" y2="573.4" stroke="#333" stroke-width="1.3" />
<text x="1082.3" y="579.5" font-size="16.85" text-anchor="end" fill="#1a1a1a" font-family="'DejaVu Sans','Liberation Sans',sans-serif" font-weight="normal"  stroke="#1a1a1a" stroke-width="0.28">40</text>
<line x1="1087.3" y1="521.1" x2="1093.3" y2="521.1" stroke="#333" stroke-width="1.3" />
<text x="1082.3" y="527.2" font-size="16.85" text-anchor="end" fill="#1a1a1a" font-family="'DejaVu Sans','Liberation Sans',sans-serif" font-weight="normal"  stroke="#1a1a1a" stroke-width="0.28">60</text>
<line x1="1087.3" y1="468.8" x2="1093.3" y2="468.8" stroke="#333" stroke-width="1.3" />
<text x="1082.3" y="474.9" font-size="16.85" text-anchor="end" fill="#1a1a1a" font-family="'DejaVu Sans','Liberation Sans',sans-serif" font-weight="normal"  stroke="#1a1a1a" stroke-width="0.28">80</text>
<line x1="1087.3" y1="416.5" x2="1093.3" y2="416.5" stroke="#333" stroke-width="1.3" />
<text x="1082.3" y="422.6" font-size="16.85" text-anchor="end" fill="#1a1a1a" font-family="'DejaVu Sans','Liberation Sans',sans-serif" font-weight="normal"  stroke="#1a1a1a" stroke-width="0.28">100</text>
<line x1="1146.3" y1="691" x2="1146.3" y2="697" stroke="#333" stroke-width="1.3" />
<text x="1146.3" y="715.5" font-size="16.85" text-anchor="middle" fill="#1a1a1a" font-family="'DejaVu Sans','Liberation Sans',sans-serif" font-weight="normal"  stroke="#1a1a1a" stroke-width="0.28">0%</text>
<line x1="1287" y1="691" x2="1287" y2="697" stroke="#333" stroke-width="1.3" />
<text x="1287" y="715.5" font-size="16.85" text-anchor="middle" fill="#1a1a1a" font-family="'DejaVu Sans','Liberation Sans',sans-serif" font-weight="normal"  stroke="#1a1a1a" stroke-width="0.28">50%</text>
<line x1="1427.8" y1="691" x2="1427.8" y2="697" stroke="#333" stroke-width="1.3" />
<text x="1427.8" y="715.5" font-size="16.85" text-anchor="middle" fill="#1a1a1a" font-family="'DejaVu Sans','Liberation Sans',sans-serif" font-weight="normal"  stroke="#1a1a1a" stroke-width="0.28">100%</text>
<rect x="1111.1" y="418.33" width="35.2" height="259.67" fill="#238b45" />
<rect x="1251.8" y="457.03" width="35.2" height="220.97" fill="#238b45" />
<rect x="1392.6" y="419.64" width="35.2" height="258.36" fill="#238b45" />
<rect x="1146.3" y="420.16" width="35.2" height="257.84" fill="#a0d48e" />
<rect x="1287" y="519.27" width="35.2" height="158.73" fill="#a0d48e" />
<rect x="1427.8" y="421.21" width="35.2" height="256.79" fill="#a0d48e" />
<polyline points="1128.7,418.33 1269.4,457.03 1410.2,419.64" fill="none" stroke="#238b45" stroke-width="1.6" stroke-linejoin="round" />
<polyline points="1163.9,420.16 1304.6,519.27 1445.4,421.21" fill="none" stroke="#a0d48e" stroke-width="1.6" stroke-linejoin="round" />
<circle cx="1140.12" cy="416.5" r="3.3" fill="#2f8f4a" fill-opacity="0.85" stroke="#fff" stroke-opacity="0.85" stroke-width="0.8"/>
<circle cx="1133.94" cy="416.5" r="3.3" fill="#2f8f4a" fill-opacity="0.85" stroke="#fff" stroke-opacity="0.85" stroke-width="0.8"/>
<circle cx="1136.2" cy="416.5" r="3.3" fill="#2f8f4a" fill-opacity="0.85" stroke="#fff" stroke-opacity="0.85" stroke-width="0.8"/>
<circle cx="1140.09" cy="416.5" r="3.3" fill="#2f8f4a" fill-opacity="0.85" stroke="#fff" stroke-opacity="0.85" stroke-width="0.8"/>
<circle cx="1121.94" cy="416.5" r="3.3" fill="#2f8f4a" fill-opacity="0.85" stroke="#fff" stroke-opacity="0.85" stroke-width="0.8"/>
<circle cx="1132.52" cy="416.5" r="3.3" fill="#2f8f4a" fill-opacity="0.85" stroke="#fff" stroke-opacity="0.85" stroke-width="0.8"/>
<circle cx="1140.1" cy="417.81" r="3.3" fill="#2f8f4a" fill-opacity="0.85" stroke="#fff" stroke-opacity="0.85" stroke-width="0.8"/>
<circle cx="1139.18" cy="419.11" r="3.3" fill="#2f8f4a" fill-opacity="0.85" stroke="#fff" stroke-opacity="0.85" stroke-width="0.8"/>
<circle cx="1130.75" cy="421.73" r="3.3" fill="#2f8f4a" fill-opacity="0.85" stroke="#fff" stroke-opacity="0.85" stroke-width="0.8"/>
<circle cx="1119.39" cy="423.04" r="3.3" fill="#2f8f4a" fill-opacity="0.85" stroke="#fff" stroke-opacity="0.85" stroke-width="0.8"/>
<circle cx="1262.4" cy="416.5" r="3.3" fill="#2f8f4a" fill-opacity="0.85" stroke="#fff" stroke-opacity="0.85" stroke-width="0.8"/>
<circle cx="1264.7" cy="416.5" r="3.3" fill="#2f8f4a" fill-opacity="0.85" stroke="#fff" stroke-opacity="0.85" stroke-width="0.8"/>
<circle cx="1268.6" cy="416.5" r="3.3" fill="#2f8f4a" fill-opacity="0.85" stroke="#fff" stroke-opacity="0.85" stroke-width="0.8"/>
<circle cx="1271.2" cy="417.81" r="3.3" fill="#2f8f4a" fill-opacity="0.85" stroke="#fff" stroke-opacity="0.85" stroke-width="0.8"/>
<circle cx="1274.9" cy="419.11" r="3.3" fill="#2f8f4a" fill-opacity="0.85" stroke="#fff" stroke-opacity="0.85" stroke-width="0.8"/>
<circle cx="1277.9" cy="419.11" r="3.3" fill="#2f8f4a" fill-opacity="0.85" stroke="#fff" stroke-opacity="0.85" stroke-width="0.8"/>
<circle cx="1272.4" cy="426.18" r="3.3" fill="#2f8f4a" fill-opacity="0.85" stroke="#fff" stroke-opacity="0.85" stroke-width="0.8"/>
<circle cx="1266.9" cy="543.33" r="3.3" fill="#2f8f4a" fill-opacity="0.85" stroke="#fff" stroke-opacity="0.85" stroke-width="0.8"/>
<circle cx="1276.2" cy="546.99" r="3.3" fill="#2f8f4a" fill-opacity="0.85" stroke="#fff" stroke-opacity="0.85" stroke-width="0.8"/>
<circle cx="1260.6" cy="550.39" r="3.3" fill="#2f8f4a" fill-opacity="0.85" stroke="#fff" stroke-opacity="0.85" stroke-width="0.8"/>
<circle cx="1423.1" cy="416.5" r="3.3" fill="#2f8f4a" fill-opacity="0.85" stroke="#fff" stroke-opacity="0.85" stroke-width="0.8"/>
<circle cx="1400.07" cy="416.5" r="3.3" fill="#2f8f4a" fill-opacity="0.85" stroke="#fff" stroke-opacity="0.85" stroke-width="0.8"/>
<circle cx="1396.79" cy="416.5" r="3.3" fill="#2f8f4a" fill-opacity="0.85" stroke="#fff" stroke-opacity="0.85" stroke-width="0.8"/>
<circle cx="1424.24" cy="416.5" r="3.3" fill="#2f8f4a" fill-opacity="0.85" stroke="#fff" stroke-opacity="0.85" stroke-width="0.8"/>
<circle cx="1401.31" cy="416.5" r="3.3" fill="#2f8f4a" fill-opacity="0.85" stroke="#fff" stroke-opacity="0.85" stroke-width="0.8"/>
<circle cx="1399.52" cy="419.11" r="3.3" fill="#2f8f4a" fill-opacity="0.85" stroke="#fff" stroke-opacity="0.85" stroke-width="0.8"/>
<circle cx="1414.46" cy="419.11" r="3.3" fill="#2f8f4a" fill-opacity="0.85" stroke="#fff" stroke-opacity="0.85" stroke-width="0.8"/>
<circle cx="1405.85" cy="421.73" r="3.3" fill="#2f8f4a" fill-opacity="0.85" stroke="#fff" stroke-opacity="0.85" stroke-width="0.8"/>
<circle cx="1421.17" cy="424.34" r="3.3" fill="#2f8f4a" fill-opacity="0.85" stroke="#fff" stroke-opacity="0.85" stroke-width="0.8"/>
<circle cx="1402.65" cy="425.65" r="3.3" fill="#2f8f4a" fill-opacity="0.85" stroke="#fff" stroke-opacity="0.85" stroke-width="0.8"/>
<circle cx="1175.44" cy="416.5" r="3.3" fill="#98d48f" fill-opacity="0.85" stroke="#fff" stroke-opacity="0.85" stroke-width="0.8"/>
<circle cx="1158.1" cy="416.5" r="3.3" fill="#98d48f" fill-opacity="0.85" stroke="#fff" stroke-opacity="0.85" stroke-width="0.8"/>
<circle cx="1162.76" cy="416.5" r="3.3" fill="#98d48f" fill-opacity="0.85" stroke="#fff" stroke-opacity="0.85" stroke-width="0.8"/>
<circle cx="1153.66" cy="416.5" r="3.3" fill="#98d48f" fill-opacity="0.85" stroke="#fff" stroke-opacity="0.85" stroke-width="0.8"/>
<circle cx="1177.84" cy="416.5" r="3.3" fill="#98d48f" fill-opacity="0.85" stroke="#fff" stroke-opacity="0.85" stroke-width="0.8"/>
<circle cx="1154.17" cy="417.81" r="3.3" fill="#98d48f" fill-opacity="0.85" stroke="#fff" stroke-opacity="0.85" stroke-width="0.8"/>
<circle cx="1168.8" cy="421.73" r="3.3" fill="#98d48f" fill-opacity="0.85" stroke="#fff" stroke-opacity="0.85" stroke-width="0.8"/>
<circle cx="1166.66" cy="424.34" r="3.3" fill="#98d48f" fill-opacity="0.85" stroke="#fff" stroke-opacity="0.85" stroke-width="0.8"/>
<circle cx="1169.94" cy="429.57" r="3.3" fill="#98d48f" fill-opacity="0.85" stroke="#fff" stroke-opacity="0.85" stroke-width="0.8"/>
<circle cx="1161.38" cy="432.19" r="3.3" fill="#98d48f" fill-opacity="0.85" stroke="#fff" stroke-opacity="0.85" stroke-width="0.8"/>
<circle cx="1299.8" cy="416.5" r="3.3" fill="#98d48f" fill-opacity="0.85" stroke="#fff" stroke-opacity="0.85" stroke-width="0.8"/>
<circle cx="1297.8" cy="426.18" r="3.3" fill="#98d48f" fill-opacity="0.85" stroke="#fff" stroke-opacity="0.85" stroke-width="0.8"/>
<circle cx="1290.76" cy="534.96" r="3.3" fill="#98d48f" fill-opacity="0.85" stroke="#fff" stroke-opacity="0.85" stroke-width="0.8"/>
<circle cx="1318.2" cy="536.27" r="3.3" fill="#98d48f" fill-opacity="0.85" stroke="#fff" stroke-opacity="0.85" stroke-width="0.8"/>
<circle cx="1313.67" cy="539.93" r="3.3" fill="#98d48f" fill-opacity="0.85" stroke="#fff" stroke-opacity="0.85" stroke-width="0.8"/>
<circle cx="1318.65" cy="542.02" r="3.3" fill="#98d48f" fill-opacity="0.85" stroke="#fff" stroke-opacity="0.85" stroke-width="0.8"/>
<circle cx="1297.94" cy="544.63" r="3.3" fill="#98d48f" fill-opacity="0.85" stroke="#fff" stroke-opacity="0.85" stroke-width="0.8"/>
<circle cx="1296.14" cy="544.9" r="3.3" fill="#98d48f" fill-opacity="0.85" stroke="#fff" stroke-opacity="0.85" stroke-width="0.8"/>
<circle cx="1292.06" cy="549.6" r="3.3" fill="#98d48f" fill-opacity="0.85" stroke="#fff" stroke-opacity="0.85" stroke-width="0.8"/>
<circle cx="1295.98" cy="555.1" r="3.3" fill="#98d48f" fill-opacity="0.85" stroke="#fff" stroke-opacity="0.85" stroke-width="0.8"/>
<circle cx="1433.39" cy="416.5" r="3.3" fill="#98d48f" fill-opacity="0.85" stroke="#fff" stroke-opacity="0.85" stroke-width="0.8"/>
<circle cx="1448.06" cy="416.5" r="3.3" fill="#98d48f" fill-opacity="0.85" stroke="#fff" stroke-opacity="0.85" stroke-width="0.8"/>
<circle cx="1459.18" cy="416.5" r="3.3" fill="#98d48f" fill-opacity="0.85" stroke="#fff" stroke-opacity="0.85" stroke-width="0.8"/>
<circle cx="1441.01" cy="416.5" r="3.3" fill="#98d48f" fill-opacity="0.85" stroke="#fff" stroke-opacity="0.85" stroke-width="0.8"/>
<circle cx="1446.64" cy="416.5" r="3.3" fill="#98d48f" fill-opacity="0.85" stroke="#fff" stroke-opacity="0.85" stroke-width="0.8"/>
<circle cx="1441.86" cy="421.73" r="3.3" fill="#98d48f" fill-opacity="0.85" stroke="#fff" stroke-opacity="0.85" stroke-width="0.8"/>
<circle cx="1452.15" cy="424.34" r="3.3" fill="#98d48f" fill-opacity="0.85" stroke="#fff" stroke-opacity="0.85" stroke-width="0.8"/>
<circle cx="1450.62" cy="426.96" r="3.3" fill="#98d48f" fill-opacity="0.85" stroke="#fff" stroke-opacity="0.85" stroke-width="0.8"/>
<circle cx="1448.18" cy="429.57" r="3.3" fill="#98d48f" fill-opacity="0.85" stroke="#fff" stroke-opacity="0.85" stroke-width="0.8"/>
<circle cx="1458.81" cy="433.5" r="3.3" fill="#98d48f" fill-opacity="0.85" stroke="#fff" stroke-opacity="0.85" stroke-width="0.8"/>
<line x1="1128.7" y1="417.55" x2="1128.7" y2="419.11" stroke="#222" stroke-width="1.4" />
<line x1="1123.9" y1="417.55" x2="1133.5" y2="417.55" stroke="#222" stroke-width="1.4" />
<line x1="1123.9" y1="419.11" x2="1133.5" y2="419.11" stroke="#222" stroke-width="1.4" />
<line x1="1269.4" y1="437.42" x2="1269.4" y2="476.64" stroke="#222" stroke-width="1.4" />
<line x1="1264.6" y1="437.42" x2="1274.2" y2="437.42" stroke="#222" stroke-width="1.4" />
<line x1="1264.6" y1="476.64" x2="1274.2" y2="476.64" stroke="#222" stroke-width="1.4" />
<line x1="1410.2" y1="418.33" x2="1410.2" y2="420.95" stroke="#222" stroke-width="1.4" />
<line x1="1405.4" y1="418.33" x2="1415" y2="418.33" stroke="#222" stroke-width="1.4" />
<line x1="1405.4" y1="420.95" x2="1415" y2="420.95" stroke="#222" stroke-width="1.4" />
<line x1="1163.9" y1="418.07" x2="1163.9" y2="422.25" stroke="#222" stroke-width="1.4" />
<line x1="1159.1" y1="418.07" x2="1168.7" y2="418.07" stroke="#222" stroke-width="1.4" />
<line x1="1159.1" y1="422.25" x2="1168.7" y2="422.25" stroke="#222" stroke-width="1.4" />
<line x1="1304.6" y1="502.53" x2="1304.6" y2="536.01" stroke="#222" stroke-width="1.4" />
<line x1="1299.8" y1="502.53" x2="1309.4" y2="502.53" stroke="#222" stroke-width="1.4" />
<line x1="1299.8" y1="536.01" x2="1309.4" y2="536.01" stroke="#222" stroke-width="1.4" />
<line x1="1445.4" y1="419.11" x2="1445.4" y2="423.3" stroke="#222" stroke-width="1.4" />
<line x1="1440.6" y1="419.11" x2="1450.2" y2="419.11" stroke="#222" stroke-width="1.4" />
<line x1="1440.6" y1="423.3" x2="1450.2" y2="423.3" stroke="#222" stroke-width="1.4" />
<text x="1290" y="737" font-size="16.85" text-anchor="middle" fill="#1a1a1a" font-family="'DejaVu Sans','Liberation Sans',sans-serif" font-weight="normal"  stroke="#1a1a1a" stroke-width="0.28">Cues</text>
<line x1="1597.4" y1="414.2" x2="1597.4" y2="691.3" stroke="#555555" stroke-width="1.3" />
<line x1="1597.4" y1="691.3" x2="1984.5" y2="691.3" stroke="#555555" stroke-width="1.3" />
<line x1="1591.4" y1="678.3" x2="1597.4" y2="678.3" stroke="#333" stroke-width="1.3" />
<text x="1586.4" y="684.4" font-size="16.85" text-anchor="end" fill="#1a1a1a" font-family="'DejaVu Sans','Liberation Sans',sans-serif" font-weight="normal"  stroke="#1a1a1a" stroke-width="0.28">0</text>
<line x1="1591.4" y1="625.82" x2="1597.4" y2="625.82" stroke="#333" stroke-width="1.3" />
<text x="1586.4" y="631.92" font-size="16.85" text-anchor="end" fill="#1a1a1a" font-family="'DejaVu Sans','Liberation Sans',sans-serif" font-weight="normal"  stroke="#1a1a1a" stroke-width="0.28">20</text>
<line x1="1591.4" y1="573.34" x2="1597.4" y2="573.34" stroke="#333" stroke-width="1.3" />
<text x="1586.4" y="579.44" font-size="16.85" text-anchor="end" fill="#1a1a1a" font-family="'DejaVu Sans','Liberation Sans',sans-serif" font-weight="normal"  stroke="#1a1a1a" stroke-width="0.28">40</text>
<line x1="1591.4" y1="520.86" x2="1597.4" y2="520.86" stroke="#333" stroke-width="1.3" />
<text x="1586.4" y="526.96" font-size="16.85" text-anchor="end" fill="#1a1a1a" font-family="'DejaVu Sans','Liberation Sans',sans-serif" font-weight="normal"  stroke="#1a1a1a" stroke-width="0.28">60</text>
<line x1="1591.4" y1="468.38" x2="1597.4" y2="468.38" stroke="#333" stroke-width="1.3" />
<text x="1586.4" y="474.48" font-size="16.85" text-anchor="end" fill="#1a1a1a" font-family="'DejaVu Sans','Liberation Sans',sans-serif" font-weight="normal"  stroke="#1a1a1a" stroke-width="0.28">80</text>
<line x1="1591.4" y1="415.9" x2="1597.4" y2="415.9" stroke="#333" stroke-width="1.3" />
<text x="1586.4" y="422" font-size="16.85" text-anchor="end" fill="#1a1a1a" font-family="'DejaVu Sans','Liberation Sans',sans-serif" font-weight="normal"  stroke="#1a1a1a" stroke-width="0.28">100</text>
<line x1="1640.3" y1="691.3" x2="1640.3" y2="697.3" stroke="#333" stroke-width="1.3" />
<text x="1640.3" y="715.8" font-size="16.85" text-anchor="middle" fill="#1a1a1a" font-family="'DejaVu Sans','Liberation Sans',sans-serif" font-weight="normal"  stroke="#1a1a1a" stroke-width="0.28">0%</text>
<line x1="1740.6" y1="691.3" x2="1740.6" y2="697.3" stroke="#333" stroke-width="1.3" />
<text x="1740.6" y="715.8" font-size="16.85" text-anchor="middle" fill="#1a1a1a" font-family="'DejaVu Sans','Liberation Sans',sans-serif" font-weight="normal"  stroke="#1a1a1a" stroke-width="0.28">25%</text>
<line x1="1841.2" y1="691.3" x2="1841.2" y2="697.3" stroke="#333" stroke-width="1.3" />
<text x="1841.2" y="715.8" font-size="16.85" text-anchor="middle" fill="#1a1a1a" font-family="'DejaVu Sans','Liberation Sans',sans-serif" font-weight="normal"  stroke="#1a1a1a" stroke-width="0.28">50%</text>
<line x1="1942.1" y1="691.3" x2="1942.1" y2="697.3" stroke="#333" stroke-width="1.3" />
<text x="1942.1" y="715.8" font-size="16.85" text-anchor="middle" fill="#1a1a1a" font-family="'DejaVu Sans','Liberation Sans',sans-serif" font-weight="normal"  stroke="#1a1a1a" stroke-width="0.28">100%</text>
<rect x="1615.1" y="484.65" width="25.2" height="193.65" fill="#238b45" />
<rect x="1715.4" y="508.79" width="25.2" height="169.51" fill="#238b45" />
<rect x="1816" y="451.32" width="25.2" height="226.98" fill="#238b45" />
<rect x="1916.9" y="418.52" width="25.2" height="259.78" fill="#238b45" />
<rect x="1640.3" y="480.98" width="25.2" height="197.32" fill="#a0d48e" />
<rect x="1740.6" y="539.23" width="25.2" height="139.07" fill="#a0d48e" />
<rect x="1841.2" y="479.4" width="25.2" height="198.9" fill="#a0d48e" />
<rect x="1942.1" y="486.75" width="25.2" height="191.55" fill="#a0d48e" />
<polyline points="1627.7,484.65 1728,508.79 1828.6,451.32 1929.5,418.52" fill="none" stroke="#238b45" stroke-width="1.6" stroke-linejoin="round" />
<polyline points="1652.9,480.98 1753.2,539.23 1853.8,479.4 1954.7,486.75" fill="none" stroke="#a0d48e" stroke-width="1.6" stroke-linejoin="round" />
<circle cx="1627.2" cy="473.63" r="3.3" fill="#2f8f4a" fill-opacity="0.85" stroke="#fff" stroke-opacity="0.85" stroke-width="0.8"/>
<circle cx="1623.45" cy="479.93" r="3.3" fill="#2f8f4a" fill-opacity="0.85" stroke="#fff" stroke-opacity="0.85" stroke-width="0.8"/>
<circle cx="1618.23" cy="481.5" r="3.3" fill="#2f8f4a" fill-opacity="0.85" stroke="#fff" stroke-opacity="0.85" stroke-width="0.8"/>
<circle cx="1630.8" cy="484.12" r="3.3" fill="#2f8f4a" fill-opacity="0.85" stroke="#fff" stroke-opacity="0.85" stroke-width="0.8"/>
<circle cx="1621.85" cy="485.44" r="3.3" fill="#2f8f4a" fill-opacity="0.85" stroke="#fff" stroke-opacity="0.85" stroke-width="0.8"/>
<circle cx="1622.81" cy="486.75" r="3.3" fill="#2f8f4a" fill-opacity="0.85" stroke="#fff" stroke-opacity="0.85" stroke-width="0.8"/>
<circle cx="1625.63" cy="488.06" r="3.3" fill="#2f8f4a" fill-opacity="0.85" stroke="#fff" stroke-opacity="0.85" stroke-width="0.8"/>
<circle cx="1630.55" cy="489.37" r="3.3" fill="#2f8f4a" fill-opacity="0.85" stroke="#fff" stroke-opacity="0.85" stroke-width="0.8"/>
<circle cx="1637.55" cy="490.68" r="3.3" fill="#2f8f4a" fill-opacity="0.85" stroke="#fff" stroke-opacity="0.85" stroke-width="0.8"/>
<circle cx="1626.92" cy="494.62" r="3.3" fill="#2f8f4a" fill-opacity="0.85" stroke="#fff" stroke-opacity="0.85" stroke-width="0.8"/>
<circle cx="1734" cy="415.9" r="3.3" fill="#2f8f4a" fill-opacity="0.85" stroke="#fff" stroke-opacity="0.85" stroke-width="0.8"/>
<circle cx="1730" cy="423.25" r="3.3" fill="#2f8f4a" fill-opacity="0.85" stroke="#fff" stroke-opacity="0.85" stroke-width="0.8"/>
<circle cx="1721.8" cy="474.42" r="3.3" fill="#2f8f4a" fill-opacity="0.85" stroke="#fff" stroke-opacity="0.85" stroke-width="0.8"/>
<circle cx="1731.71" cy="485.96" r="3.3" fill="#2f8f4a" fill-opacity="0.85" stroke="#fff" stroke-opacity="0.85" stroke-width="0.8"/>
<circle cx="1720.72" cy="488.06" r="3.3" fill="#2f8f4a" fill-opacity="0.85" stroke="#fff" stroke-opacity="0.85" stroke-width="0.8"/>
<circle cx="1720.19" cy="489.37" r="3.3" fill="#2f8f4a" fill-opacity="0.85" stroke="#fff" stroke-opacity="0.85" stroke-width="0.8"/>
<circle cx="1722.59" cy="491.47" r="3.3" fill="#2f8f4a" fill-opacity="0.85" stroke="#fff" stroke-opacity="0.85" stroke-width="0.8"/>
<circle cx="1723.2" cy="598.53" r="3.3" fill="#2f8f4a" fill-opacity="0.85" stroke="#fff" stroke-opacity="0.85" stroke-width="0.8"/>
<circle cx="1727.5" cy="611.65" r="3.3" fill="#2f8f4a" fill-opacity="0.85" stroke="#fff" stroke-opacity="0.85" stroke-width="0.8"/>
<circle cx="1724.5" cy="612.7" r="3.3" fill="#2f8f4a" fill-opacity="0.85" stroke="#fff" stroke-opacity="0.85" stroke-width="0.8"/>
<circle cx="1823.6" cy="415.9" r="3.3" fill="#2f8f4a" fill-opacity="0.85" stroke="#fff" stroke-opacity="0.85" stroke-width="0.8"/>
<circle cx="1831.8" cy="415.9" r="3.3" fill="#2f8f4a" fill-opacity="0.85" stroke="#fff" stroke-opacity="0.85" stroke-width="0.8"/>
<circle cx="1826.6" cy="415.9" r="3.3" fill="#2f8f4a" fill-opacity="0.85" stroke="#fff" stroke-opacity="0.85" stroke-width="0.8"/>
<circle cx="1828.6" cy="416.69" r="3.3" fill="#2f8f4a" fill-opacity="0.85" stroke="#fff" stroke-opacity="0.85" stroke-width="0.8"/>
<circle cx="1834.4" cy="426.92" r="3.3" fill="#2f8f4a" fill-opacity="0.85" stroke="#fff" stroke-opacity="0.85" stroke-width="0.8"/>
<circle cx="1833.04" cy="478.88" r="3.3" fill="#2f8f4a" fill-opacity="0.85" stroke="#fff" stroke-opacity="0.85" stroke-width="0.8"/>
<circle cx="1820.54" cy="482.29" r="3.3" fill="#2f8f4a" fill-opacity="0.85" stroke="#fff" stroke-opacity="0.85" stroke-width="0.8"/>
<circle cx="1828.78" cy="485.44" r="3.3" fill="#2f8f4a" fill-opacity="0.85" stroke="#fff" stroke-opacity="0.85" stroke-width="0.8"/>
<circle cx="1835.52" cy="486.75" r="3.3" fill="#2f8f4a" fill-opacity="0.85" stroke="#fff" stroke-opacity="0.85" stroke-width="0.8"/>
<circle cx="1829.06" cy="489.37" r="3.3" fill="#2f8f4a" fill-opacity="0.85" stroke="#fff" stroke-opacity="0.85" stroke-width="0.8"/>
<circle cx="1930.92" cy="415.9" r="3.3" fill="#2f8f4a" fill-opacity="0.85" stroke="#fff" stroke-opacity="0.85" stroke-width="0.8"/>
<circle cx="1932.17" cy="415.9" r="3.3" fill="#2f8f4a" fill-opacity="0.85" stroke="#fff" stroke-opacity="0.85" stroke-width="0.8"/>
<circle cx="1935.89" cy="415.9" r="3.3" fill="#2f8f4a" fill-opacity="0.85" stroke="#fff" stroke-opacity="0.85" stroke-width="0.8"/>
<circle cx="1925.01" cy="415.9" r="3.3" fill="#2f8f4a" fill-opacity="0.85" stroke="#fff" stroke-opacity="0.85" stroke-width="0.8"/>
<circle cx="1932.56" cy="415.9" r="3.3" fill="#2f8f4a" fill-opacity="0.85" stroke="#fff" stroke-opacity="0.85" stroke-width="0.8"/>
<circle cx="1937.38" cy="415.9" r="3.3" fill="#2f8f4a" fill-opacity="0.85" stroke="#fff" stroke-opacity="0.85" stroke-width="0.8"/>
<circle cx="1937.74" cy="418.52" r="3.3" fill="#2f8f4a" fill-opacity="0.85" stroke="#fff" stroke-opacity="0.85" stroke-width="0.8"/>
<circle cx="1923.18" cy="419.84" r="3.3" fill="#2f8f4a" fill-opacity="0.85" stroke="#fff" stroke-opacity="0.85" stroke-width="0.8"/>
<circle cx="1932.56" cy="426.4" r="3.3" fill="#2f8f4a" fill-opacity="0.85" stroke="#fff" stroke-opacity="0.85" stroke-width="0.8"/>
<circle cx="1931.86" cy="427.71" r="3.3" fill="#2f8f4a" fill-opacity="0.85" stroke="#fff" stroke-opacity="0.85" stroke-width="0.8"/>
<circle cx="1648.29" cy="470.22" r="3.3" fill="#98d48f" fill-opacity="0.85" stroke="#fff" stroke-opacity="0.85" stroke-width="0.8"/>
<circle cx="1653.74" cy="473.63" r="3.3" fill="#98d48f" fill-opacity="0.85" stroke="#fff" stroke-opacity="0.85" stroke-width="0.8"/>
<circle cx="1657.1" cy="477.56" r="3.3" fill="#98d48f" fill-opacity="0.85" stroke="#fff" stroke-opacity="0.85" stroke-width="0.8"/>
<circle cx="1662.15" cy="478.88" r="3.3" fill="#98d48f" fill-opacity="0.85" stroke="#fff" stroke-opacity="0.85" stroke-width="0.8"/>
<circle cx="1650.26" cy="480.19" r="3.3" fill="#98d48f" fill-opacity="0.85" stroke="#fff" stroke-opacity="0.85" stroke-width="0.8"/>
<circle cx="1653.56" cy="481.5" r="3.3" fill="#98d48f" fill-opacity="0.85" stroke="#fff" stroke-opacity="0.85" stroke-width="0.8"/>
<circle cx="1650.37" cy="482.81" r="3.3" fill="#98d48f" fill-opacity="0.85" stroke="#fff" stroke-opacity="0.85" stroke-width="0.8"/>
<circle cx="1653.91" cy="485.44" r="3.3" fill="#98d48f" fill-opacity="0.85" stroke="#fff" stroke-opacity="0.85" stroke-width="0.8"/>
<circle cx="1659.78" cy="488.06" r="3.3" fill="#98d48f" fill-opacity="0.85" stroke="#fff" stroke-opacity="0.85" stroke-width="0.8"/>
<circle cx="1662.83" cy="490.68" r="3.3" fill="#98d48f" fill-opacity="0.85" stroke="#fff" stroke-opacity="0.85" stroke-width="0.8"/>
<circle cx="1747" cy="481.76" r="3.3" fill="#98d48f" fill-opacity="0.85" stroke="#fff" stroke-opacity="0.85" stroke-width="0.8"/>
<circle cx="1752.4" cy="485.44" r="3.3" fill="#98d48f" fill-opacity="0.85" stroke="#fff" stroke-opacity="0.85" stroke-width="0.8"/>
<circle cx="1754.37" cy="539.75" r="3.3" fill="#98d48f" fill-opacity="0.85" stroke="#fff" stroke-opacity="0.85" stroke-width="0.8"/>
<circle cx="1750.87" cy="547.1" r="3.3" fill="#98d48f" fill-opacity="0.85" stroke="#fff" stroke-opacity="0.85" stroke-width="0.8"/>
<circle cx="1759.94" cy="548.41" r="3.3" fill="#98d48f" fill-opacity="0.85" stroke="#fff" stroke-opacity="0.85" stroke-width="0.8"/>
<circle cx="1746.33" cy="549.72" r="3.3" fill="#98d48f" fill-opacity="0.85" stroke="#fff" stroke-opacity="0.85" stroke-width="0.8"/>
<circle cx="1752.2" cy="554.18" r="3.3" fill="#98d48f" fill-opacity="0.85" stroke="#fff" stroke-opacity="0.85" stroke-width="0.8"/>
<circle cx="1758.5" cy="557.6" r="3.3" fill="#98d48f" fill-opacity="0.85" stroke="#fff" stroke-opacity="0.85" stroke-width="0.8"/>
<circle cx="1755.34" cy="563.37" r="3.3" fill="#98d48f" fill-opacity="0.85" stroke="#fff" stroke-opacity="0.85" stroke-width="0.8"/>
<circle cx="1761.38" cy="562.84" r="3.3" fill="#98d48f" fill-opacity="0.85" stroke="#fff" stroke-opacity="0.85" stroke-width="0.8"/>
<circle cx="1859.8" cy="462.34" r="3.3" fill="#98d48f" fill-opacity="0.85" stroke="#fff" stroke-opacity="0.85" stroke-width="0.8"/>
<circle cx="1854.3" cy="467.33" r="3.3" fill="#98d48f" fill-opacity="0.85" stroke="#fff" stroke-opacity="0.85" stroke-width="0.8"/>
<circle cx="1853.9" cy="476.25" r="3.3" fill="#98d48f" fill-opacity="0.85" stroke="#fff" stroke-opacity="0.85" stroke-width="0.8"/>
<circle cx="1863.25" cy="478.88" r="3.3" fill="#98d48f" fill-opacity="0.85" stroke="#fff" stroke-opacity="0.85" stroke-width="0.8"/>
<circle cx="1860.09" cy="481.5" r="3.3" fill="#98d48f" fill-opacity="0.85" stroke="#fff" stroke-opacity="0.85" stroke-width="0.8"/>
<circle cx="1859.65" cy="482.81" r="3.3" fill="#98d48f" fill-opacity="0.85" stroke="#fff" stroke-opacity="0.85" stroke-width="0.8"/>
<circle cx="1857.43" cy="483.6" r="3.3" fill="#98d48f" fill-opacity="0.85" stroke="#fff" stroke-opacity="0.85" stroke-width="0.8"/>
<circle cx="1846.88" cy="485.44" r="3.3" fill="#98d48f" fill-opacity="0.85" stroke="#fff" stroke-opacity="0.85" stroke-width="0.8"/>
<circle cx="1862.13" cy="487.27" r="3.3" fill="#98d48f" fill-opacity="0.85" stroke="#fff" stroke-opacity="0.85" stroke-width="0.8"/>
<circle cx="1852.46" cy="490.95" r="3.3" fill="#98d48f" fill-opacity="0.85" stroke="#fff" stroke-opacity="0.85" stroke-width="0.8"/>
<circle cx="1960.5" cy="465.23" r="3.3" fill="#98d48f" fill-opacity="0.85" stroke="#fff" stroke-opacity="0.85" stroke-width="0.8"/>
<circle cx="1961.89" cy="481.5" r="3.3" fill="#98d48f" fill-opacity="0.85" stroke="#fff" stroke-opacity="0.85" stroke-width="0.8"/>
<circle cx="1946.41" cy="482.29" r="3.3" fill="#98d48f" fill-opacity="0.85" stroke="#fff" stroke-opacity="0.85" stroke-width="0.8"/>
<circle cx="1952.25" cy="484.12" r="3.3" fill="#98d48f" fill-opacity="0.85" stroke="#fff" stroke-opacity="0.85" stroke-width="0.8"/>
<circle cx="1945.61" cy="485.44" r="3.3" fill="#98d48f" fill-opacity="0.85" stroke="#fff" stroke-opacity="0.85" stroke-width="0.8"/>
<circle cx="1957.72" cy="487.27" r="3.3" fill="#98d48f" fill-opacity="0.85" stroke="#fff" stroke-opacity="0.85" stroke-width="0.8"/>
<circle cx="1948.43" cy="490.68" r="3.3" fill="#98d48f" fill-opacity="0.85" stroke="#fff" stroke-opacity="0.85" stroke-width="0.8"/>
<circle cx="1950.85" cy="493.31" r="3.3" fill="#98d48f" fill-opacity="0.85" stroke="#fff" stroke-opacity="0.85" stroke-width="0.8"/>
<circle cx="1961.12" cy="494.88" r="3.3" fill="#98d48f" fill-opacity="0.85" stroke="#fff" stroke-opacity="0.85" stroke-width="0.8"/>
<circle cx="1945.72" cy="498.56" r="3.3" fill="#98d48f" fill-opacity="0.85" stroke="#fff" stroke-opacity="0.85" stroke-width="0.8"/>
<line x1="1627.7" y1="482.55" x2="1627.7" y2="486.75" stroke="#222" stroke-width="1.4" />
<line x1="1623.5" y1="482.55" x2="1631.9" y2="482.55" stroke="#222" stroke-width="1.4" />
<line x1="1623.5" y1="486.75" x2="1631.9" y2="486.75" stroke="#222" stroke-width="1.4" />
<line x1="1728" y1="485.17" x2="1728" y2="532.41" stroke="#222" stroke-width="1.4" />
<line x1="1723.8" y1="485.17" x2="1732.2" y2="485.17" stroke="#222" stroke-width="1.4" />
<line x1="1723.8" y1="532.41" x2="1732.2" y2="532.41" stroke="#222" stroke-width="1.4" />
<line x1="1828.6" y1="440.3" x2="1828.6" y2="462.34" stroke="#222" stroke-width="1.4" />
<line x1="1824.4" y1="440.3" x2="1832.8" y2="440.3" stroke="#222" stroke-width="1.4" />
<line x1="1824.4" y1="462.34" x2="1832.8" y2="462.34" stroke="#222" stroke-width="1.4" />
<line x1="1929.5" y1="417.21" x2="1929.5" y2="419.84" stroke="#222" stroke-width="1.4" />
<line x1="1925.3" y1="417.21" x2="1933.7" y2="417.21" stroke="#222" stroke-width="1.4" />
<line x1="1925.3" y1="419.84" x2="1933.7" y2="419.84" stroke="#222" stroke-width="1.4" />
<line x1="1652.9" y1="478.88" x2="1652.9" y2="483.07" stroke="#222" stroke-width="1.4" />
<line x1="1648.7" y1="478.88" x2="1657.1" y2="478.88" stroke="#222" stroke-width="1.4" />
<line x1="1648.7" y1="483.07" x2="1657.1" y2="483.07" stroke="#222" stroke-width="1.4" />
<line x1="1753.2" y1="529.52" x2="1753.2" y2="548.94" stroke="#222" stroke-width="1.4" />
<line x1="1749" y1="529.52" x2="1757.4" y2="529.52" stroke="#222" stroke-width="1.4" />
<line x1="1749" y1="548.94" x2="1757.4" y2="548.94" stroke="#222" stroke-width="1.4" />
<line x1="1853.8" y1="477.3" x2="1853.8" y2="481.5" stroke="#222" stroke-width="1.4" />
<line x1="1849.6" y1="477.3" x2="1858" y2="477.3" stroke="#222" stroke-width="1.4" />
<line x1="1849.6" y1="481.5" x2="1858" y2="481.5" stroke="#222" stroke-width="1.4" />
<line x1="1954.7" y1="484.39" x2="1954.7" y2="489.11" stroke="#222" stroke-width="1.4" />
<line x1="1950.5" y1="484.39" x2="1958.9" y2="484.39" stroke="#222" stroke-width="1.4" />
<line x1="1950.5" y1="489.11" x2="1958.9" y2="489.11" stroke="#222" stroke-width="1.4" />
<line x1="600.6" y1="1184.4" x2="600.6" y2="1468.3" stroke="#555555" stroke-width="1.3" />
<line x1="600.6" y1="1468.3" x2="998.9" y2="1468.3" stroke="#555555" stroke-width="1.3" />
<line x1="594.6" y1="1455.2" x2="600.6" y2="1455.2" stroke="#333" stroke-width="1.3" />
<text x="589.6" y="1461.3" font-size="16.85" text-anchor="end" fill="#1a1a1a" font-family="'DejaVu Sans','Liberation Sans',sans-serif" font-weight="normal"  stroke="#1a1a1a" stroke-width="0.28">0</text>
<line x1="594.6" y1="1401.58" x2="600.6" y2="1401.58" stroke="#333" stroke-width="1.3" />
<text x="589.6" y="1407.68" font-size="16.85" text-anchor="end" fill="#1a1a1a" font-family="'DejaVu Sans','Liberation Sans',sans-serif" font-weight="normal"  stroke="#1a1a1a" stroke-width="0.28">20</text>
<line x1="594.6" y1="1347.96" x2="600.6" y2="1347.96" stroke="#333" stroke-width="1.3" />
<text x="589.6" y="1354.06" font-size="16.85" text-anchor="end" fill="#1a1a1a" font-family="'DejaVu Sans','Liberation Sans',sans-serif" font-weight="normal"  stroke="#1a1a1a" stroke-width="0.28">40</text>
<line x1="594.6" y1="1294.34" x2="600.6" y2="1294.34" stroke="#333" stroke-width="1.3" />
<text x="589.6" y="1300.44" font-size="16.85" text-anchor="end" fill="#1a1a1a" font-family="'DejaVu Sans','Liberation Sans',sans-serif" font-weight="normal"  stroke="#1a1a1a" stroke-width="0.28">60</text>
<line x1="594.6" y1="1240.72" x2="600.6" y2="1240.72" stroke="#333" stroke-width="1.3" />
<text x="589.6" y="1246.82" font-size="16.85" text-anchor="end" fill="#1a1a1a" font-family="'DejaVu Sans','Liberation Sans',sans-serif" font-weight="normal"  stroke="#1a1a1a" stroke-width="0.28">80</text>
<line x1="594.6" y1="1187.1" x2="600.6" y2="1187.1" stroke="#333" stroke-width="1.3" />
<text x="589.6" y="1193.2" font-size="16.85" text-anchor="end" fill="#1a1a1a" font-family="'DejaVu Sans','Liberation Sans',sans-serif" font-weight="normal"  stroke="#1a1a1a" stroke-width="0.28">100</text>
<line x1="655.3" y1="1468.3" x2="655.3" y2="1474.3" stroke="#333" stroke-width="1.3" />
<text x="655.3" y="1492.8" font-size="16.85" text-anchor="middle" fill="#1a1a1a" font-family="'DejaVu Sans','Liberation Sans',sans-serif" font-weight="normal"  stroke="#1a1a1a" stroke-width="0.28">0%</text>
<line x1="799.5" y1="1468.3" x2="799.5" y2="1474.3" stroke="#333" stroke-width="1.3" />
<text x="799.5" y="1492.8" font-size="16.85" text-anchor="middle" fill="#1a1a1a" font-family="'DejaVu Sans','Liberation Sans',sans-serif" font-weight="normal"  stroke="#1a1a1a" stroke-width="0.28">50%</text>
<line x1="944.2" y1="1468.3" x2="944.2" y2="1474.3" stroke="#333" stroke-width="1.3" />
<text x="944.2" y="1492.8" font-size="16.85" text-anchor="middle" fill="#1a1a1a" font-family="'DejaVu Sans','Liberation Sans',sans-serif" font-weight="normal"  stroke="#1a1a1a" stroke-width="0.28">100%</text>
<rect x="619.3" y="1453.86" width="36" height="1.34" fill="#238b45" />
<rect x="763.5" y="1339.92" width="36" height="115.28" fill="#238b45" />
<rect x="908.2" y="1188.98" width="36" height="266.22" fill="#238b45" />
<rect x="655.3" y="1453.06" width="36" height="2.14" fill="#a0d48e" />
<rect x="799.5" y="1341.79" width="36" height="113.41" fill="#a0d48e" />
<rect x="944.2" y="1190.59" width="36" height="264.61" fill="#a0d48e" />
<polyline points="637.3,1453.86 781.5,1339.92 926.2,1188.98" fill="none" stroke="#238b45" stroke-width="1.6" stroke-linejoin="round" />
<polyline points="673.3,1453.06 817.5,1341.79 962.2,1190.59" fill="none" stroke="#a0d48e" stroke-width="1.6" stroke-linejoin="round" />
<circle cx="636.11" cy="1447.69" r="3.3" fill="#2f8f4a" fill-opacity="0.85" stroke="#fff" stroke-opacity="0.85" stroke-width="0.8"/>
<circle cx="648.18" cy="1451.98" r="3.3" fill="#2f8f4a" fill-opacity="0.85" stroke="#fff" stroke-opacity="0.85" stroke-width="0.8"/>
<circle cx="623.82" cy="1452.52" r="3.3" fill="#2f8f4a" fill-opacity="0.85" stroke="#fff" stroke-opacity="0.85" stroke-width="0.8"/>
<circle cx="631.03" cy="1453.86" r="3.3" fill="#2f8f4a" fill-opacity="0.85" stroke="#fff" stroke-opacity="0.85" stroke-width="0.8"/>
<circle cx="650.6" cy="1455.2" r="3.3" fill="#2f8f4a" fill-opacity="0.85" stroke="#fff" stroke-opacity="0.85" stroke-width="0.8"/>
<circle cx="642.03" cy="1455.2" r="3.3" fill="#2f8f4a" fill-opacity="0.85" stroke="#fff" stroke-opacity="0.85" stroke-width="0.8"/>
<circle cx="626.6" cy="1455.2" r="3.3" fill="#2f8f4a" fill-opacity="0.85" stroke="#fff" stroke-opacity="0.85" stroke-width="0.8"/>
<circle cx="632.93" cy="1455.2" r="3.3" fill="#2f8f4a" fill-opacity="0.85" stroke="#fff" stroke-opacity="0.85" stroke-width="0.8"/>
<circle cx="648.24" cy="1455.2" r="3.3" fill="#2f8f4a" fill-opacity="0.85" stroke="#fff" stroke-opacity="0.85" stroke-width="0.8"/>
<circle cx="635.59" cy="1455.2" r="3.3" fill="#2f8f4a" fill-opacity="0.85" stroke="#fff" stroke-opacity="0.85" stroke-width="0.8"/>
<circle cx="784.5" cy="1304.8" r="3.3" fill="#2f8f4a" fill-opacity="0.85" stroke="#fff" stroke-opacity="0.85" stroke-width="0.8"/>
<circle cx="778.8" cy="1313.64" r="3.3" fill="#2f8f4a" fill-opacity="0.85" stroke="#fff" stroke-opacity="0.85" stroke-width="0.8"/>
<circle cx="786.4" cy="1315.25" r="3.3" fill="#2f8f4a" fill-opacity="0.85" stroke="#fff" stroke-opacity="0.85" stroke-width="0.8"/>
<circle cx="774.9" cy="1321.42" r="3.3" fill="#2f8f4a" fill-opacity="0.85" stroke="#fff" stroke-opacity="0.85" stroke-width="0.8"/>
<circle cx="783.7" cy="1341.26" r="3.3" fill="#2f8f4a" fill-opacity="0.85" stroke="#fff" stroke-opacity="0.85" stroke-width="0.8"/>
<circle cx="786.98" cy="1342.6" r="3.3" fill="#2f8f4a" fill-opacity="0.85" stroke="#fff" stroke-opacity="0.85" stroke-width="0.8"/>
<circle cx="772.7" cy="1347.42" r="3.3" fill="#2f8f4a" fill-opacity="0.85" stroke="#fff" stroke-opacity="0.85" stroke-width="0.8"/>
<circle cx="788.3" cy="1365.65" r="3.3" fill="#2f8f4a" fill-opacity="0.85" stroke="#fff" stroke-opacity="0.85" stroke-width="0.8"/>
<circle cx="781" cy="1371.28" r="3.3" fill="#2f8f4a" fill-opacity="0.85" stroke="#fff" stroke-opacity="0.85" stroke-width="0.8"/>
<circle cx="790" cy="1381.74" r="3.3" fill="#2f8f4a" fill-opacity="0.85" stroke="#fff" stroke-opacity="0.85" stroke-width="0.8"/>
<circle cx="930.22" cy="1187.1" r="3.3" fill="#2f8f4a" fill-opacity="0.85" stroke="#fff" stroke-opacity="0.85" stroke-width="0.8"/>
<circle cx="912.52" cy="1187.1" r="3.3" fill="#2f8f4a" fill-opacity="0.85" stroke="#fff" stroke-opacity="0.85" stroke-width="0.8"/>
<circle cx="919.72" cy="1187.1" r="3.3" fill="#2f8f4a" fill-opacity="0.85" stroke="#fff" stroke-opacity="0.85" stroke-width="0.8"/>
<circle cx="918.23" cy="1187.1" r="3.3" fill="#2f8f4a" fill-opacity="0.85" stroke="#fff" stroke-opacity="0.85" stroke-width="0.8"/>
<circle cx="933.01" cy="1187.1" r="3.3" fill="#2f8f4a" fill-opacity="0.85" stroke="#fff" stroke-opacity="0.85" stroke-width="0.8"/>
<circle cx="931.29" cy="1187.1" r="3.3" fill="#2f8f4a" fill-opacity="0.85" stroke="#fff" stroke-opacity="0.85" stroke-width="0.8"/>
<circle cx="937.49" cy="1188.44" r="3.3" fill="#2f8f4a" fill-opacity="0.85" stroke="#fff" stroke-opacity="0.85" stroke-width="0.8"/>
<circle cx="914.3" cy="1189.78" r="3.3" fill="#2f8f4a" fill-opacity="0.85" stroke="#fff" stroke-opacity="0.85" stroke-width="0.8"/>
<circle cx="923.95" cy="1192.46" r="3.3" fill="#2f8f4a" fill-opacity="0.85" stroke="#fff" stroke-opacity="0.85" stroke-width="0.8"/>
<circle cx="912.66" cy="1193.8" r="3.3" fill="#2f8f4a" fill-opacity="0.85" stroke="#fff" stroke-opacity="0.85" stroke-width="0.8"/>
<circle cx="664.77" cy="1445.82" r="3.3" fill="#98d48f" fill-opacity="0.85" stroke="#fff" stroke-opacity="0.85" stroke-width="0.8"/>
<circle cx="661.57" cy="1449.3" r="3.3" fill="#98d48f" fill-opacity="0.85" stroke="#fff" stroke-opacity="0.85" stroke-width="0.8"/>
<circle cx="677.89" cy="1450.37" r="3.3" fill="#98d48f" fill-opacity="0.85" stroke="#fff" stroke-opacity="0.85" stroke-width="0.8"/>
<circle cx="675.78" cy="1452.52" r="3.3" fill="#98d48f" fill-opacity="0.85" stroke="#fff" stroke-opacity="0.85" stroke-width="0.8"/>
<circle cx="677.17" cy="1453.86" r="3.3" fill="#98d48f" fill-opacity="0.85" stroke="#fff" stroke-opacity="0.85" stroke-width="0.8"/>
<circle cx="669.12" cy="1453.86" r="3.3" fill="#98d48f" fill-opacity="0.85" stroke="#fff" stroke-opacity="0.85" stroke-width="0.8"/>
<circle cx="671.9" cy="1455.2" r="3.3" fill="#98d48f" fill-opacity="0.85" stroke="#fff" stroke-opacity="0.85" stroke-width="0.8"/>
<circle cx="684.49" cy="1455.2" r="3.3" fill="#98d48f" fill-opacity="0.85" stroke="#fff" stroke-opacity="0.85" stroke-width="0.8"/>
<circle cx="682.46" cy="1455.2" r="3.3" fill="#98d48f" fill-opacity="0.85" stroke="#fff" stroke-opacity="0.85" stroke-width="0.8"/>
<circle cx="666.52" cy="1455.2" r="3.3" fill="#98d48f" fill-opacity="0.85" stroke="#fff" stroke-opacity="0.85" stroke-width="0.8"/>
<circle cx="817" cy="1310.16" r="3.3" fill="#98d48f" fill-opacity="0.85" stroke="#fff" stroke-opacity="0.85" stroke-width="0.8"/>
<circle cx="826.3" cy="1311.5" r="3.3" fill="#98d48f" fill-opacity="0.85" stroke="#fff" stroke-opacity="0.85" stroke-width="0.8"/>
<circle cx="820.5" cy="1316.06" r="3.3" fill="#98d48f" fill-opacity="0.85" stroke="#fff" stroke-opacity="0.85" stroke-width="0.8"/>
<circle cx="815" cy="1332.95" r="3.3" fill="#98d48f" fill-opacity="0.85" stroke="#fff" stroke-opacity="0.85" stroke-width="0.8"/>
<circle cx="830.44" cy="1342.6" r="3.3" fill="#98d48f" fill-opacity="0.85" stroke="#fff" stroke-opacity="0.85" stroke-width="0.8"/>
<circle cx="809" cy="1345.28" r="3.3" fill="#98d48f" fill-opacity="0.85" stroke="#fff" stroke-opacity="0.85" stroke-width="0.8"/>
<circle cx="825.2" cy="1347.42" r="3.3" fill="#98d48f" fill-opacity="0.85" stroke="#fff" stroke-opacity="0.85" stroke-width="0.8"/>
<circle cx="810.9" cy="1367" r="3.3" fill="#98d48f" fill-opacity="0.85" stroke="#fff" stroke-opacity="0.85" stroke-width="0.8"/>
<circle cx="812.3" cy="1373.16" r="3.3" fill="#98d48f" fill-opacity="0.85" stroke="#fff" stroke-opacity="0.85" stroke-width="0.8"/>
<circle cx="818.6" cy="1373.16" r="3.3" fill="#98d48f" fill-opacity="0.85" stroke="#fff" stroke-opacity="0.85" stroke-width="0.8"/>
<circle cx="959.93" cy="1187.1" r="3.3" fill="#98d48f" fill-opacity="0.85" stroke="#fff" stroke-opacity="0.85" stroke-width="0.8"/>
<circle cx="964.07" cy="1187.1" r="3.3" fill="#98d48f" fill-opacity="0.85" stroke="#fff" stroke-opacity="0.85" stroke-width="0.8"/>
<circle cx="963.87" cy="1187.1" r="3.3" fill="#98d48f" fill-opacity="0.85" stroke="#fff" stroke-opacity="0.85" stroke-width="0.8"/>
<circle cx="964.76" cy="1187.1" r="3.3" fill="#98d48f" fill-opacity="0.85" stroke="#fff" stroke-opacity="0.85" stroke-width="0.8"/>
<circle cx="970.86" cy="1187.1" r="3.3" fill="#98d48f" fill-opacity="0.85" stroke="#fff" stroke-opacity="0.85" stroke-width="0.8"/>
<circle cx="975.65" cy="1189.78" r="3.3" fill="#98d48f" fill-opacity="0.85" stroke="#fff" stroke-opacity="0.85" stroke-width="0.8"/>
<circle cx="967.17" cy="1192.46" r="3.3" fill="#98d48f" fill-opacity="0.85" stroke="#fff" stroke-opacity="0.85" stroke-width="0.8"/>
<circle cx="971.09" cy="1195.14" r="3.3" fill="#98d48f" fill-opacity="0.85" stroke="#fff" stroke-opacity="0.85" stroke-width="0.8"/>
<circle cx="964.22" cy="1196.48" r="3.3" fill="#98d48f" fill-opacity="0.85" stroke="#fff" stroke-opacity="0.85" stroke-width="0.8"/>
<circle cx="961.38" cy="1199.16" r="3.3" fill="#98d48f" fill-opacity="0.85" stroke="#fff" stroke-opacity="0.85" stroke-width="0.8"/>
<line x1="637.3" y1="1453.06" x2="637.3" y2="1454.66" stroke="#222" stroke-width="1.4" />
<line x1="632.5" y1="1453.06" x2="642.1" y2="1453.06" stroke="#222" stroke-width="1.4" />
<line x1="632.5" y1="1454.66" x2="642.1" y2="1454.66" stroke="#222" stroke-width="1.4" />
<line x1="781.5" y1="1331.34" x2="781.5" y2="1348.5" stroke="#222" stroke-width="1.4" />
<line x1="776.7" y1="1331.34" x2="786.3" y2="1331.34" stroke="#222" stroke-width="1.4" />
<line x1="776.7" y1="1348.5" x2="786.3" y2="1348.5" stroke="#222" stroke-width="1.4" />
<line x1="926.2" y1="1188.17" x2="926.2" y2="1189.78" stroke="#222" stroke-width="1.4" />
<line x1="921.4" y1="1188.17" x2="931" y2="1188.17" stroke="#222" stroke-width="1.4" />
<line x1="921.4" y1="1189.78" x2="931" y2="1189.78" stroke="#222" stroke-width="1.4" />
<line x1="673.3" y1="1452.25" x2="673.3" y2="1453.86" stroke="#222" stroke-width="1.4" />
<line x1="668.5" y1="1452.25" x2="678.1" y2="1452.25" stroke="#222" stroke-width="1.4" />
<line x1="668.5" y1="1453.86" x2="678.1" y2="1453.86" stroke="#222" stroke-width="1.4" />
<line x1="817.5" y1="1334.02" x2="817.5" y2="1349.57" stroke="#222" stroke-width="1.4" />
<line x1="812.7" y1="1334.02" x2="822.3" y2="1334.02" stroke="#222" stroke-width="1.4" />
<line x1="812.7" y1="1349.57" x2="822.3" y2="1349.57" stroke="#222" stroke-width="1.4" />
<line x1="962.2" y1="1189.24" x2="962.2" y2="1191.93" stroke="#222" stroke-width="1.4" />
<line x1="957.4" y1="1189.24" x2="967" y2="1189.24" stroke="#222" stroke-width="1.4" />
<line x1="957.4" y1="1191.93" x2="967" y2="1191.93" stroke="#222" stroke-width="1.4" />
<text x="540" y="1326" font-size="16.85" text-anchor="middle" fill="#1a1a1a" stroke="#1a1a1a" stroke-width="0.28" font-family="'DejaVu Sans','Liberation Sans',sans-serif" transform="rotate(-90 540 1326)">Performance (%)</text>
<rect x="610" y="1192.9" width="132" height="55.2" rx="3" fill="#fff" fill-opacity="0.8" stroke="#d9d9d9" stroke-width="1"/>
<line x1="616" y1="1206.5" x2="651" y2="1206.5" stroke="#4ea86b" stroke-width="1.8" />
<line x1="616" y1="1231.2" x2="651" y2="1231.2" stroke="#b3dca8" stroke-width="1.6" />
<text x="665.2" y="1212.6" font-size="16.85" text-anchor="start" fill="#1a1a1a" font-family="'DejaVu Sans','Liberation Sans',sans-serif" font-weight="normal"  stroke="#1a1a1a" stroke-width="0.28">hcDRQN</text>
<text x="665.2" y="1237.3" font-size="16.85" text-anchor="start" fill="#1a1a1a" font-family="'DejaVu Sans','Liberation Sans',sans-serif" font-weight="normal"  stroke="#1a1a1a" stroke-width="0.28">hcDQN</text>
<line x1="1103.4" y1="1184.4" x2="1103.4" y2="1468.3" stroke="#555555" stroke-width="1.3" />
<line x1="1103.4" y1="1468.3" x2="1500" y2="1468.3" stroke="#555555" stroke-width="1.3" />
<line x1="1097.4" y1="1455.2" x2="1103.4" y2="1455.2" stroke="#333" stroke-width="1.3" />
<text x="1092.4" y="1461.3" font-size="16.85" text-anchor="end" fill="#1a1a1a" font-family="'DejaVu Sans','Liberation Sans',sans-serif" font-weight="normal"  stroke="#1a1a1a" stroke-width="0.28">0</text>
<line x1="1097.4" y1="1401.58" x2="1103.4" y2="1401.58" stroke="#333" stroke-width="1.3" />
<text x="1092.4" y="1407.68" font-size="16.85" text-anchor="end" fill="#1a1a1a" font-family="'DejaVu Sans','Liberation Sans',sans-serif" font-weight="normal"  stroke="#1a1a1a" stroke-width="0.28">20</text>
<line x1="1097.4" y1="1347.96" x2="1103.4" y2="1347.96" stroke="#333" stroke-width="1.3" />
<text x="1092.4" y="1354.06" font-size="16.85" text-anchor="end" fill="#1a1a1a" font-family="'DejaVu Sans','Liberation Sans',sans-serif" font-weight="normal"  stroke="#1a1a1a" stroke-width="0.28">40</text>
<line x1="1097.4" y1="1294.34" x2="1103.4" y2="1294.34" stroke="#333" stroke-width="1.3" />
<text x="1092.4" y="1300.44" font-size="16.85" text-anchor="end" fill="#1a1a1a" font-family="'DejaVu Sans','Liberation Sans',sans-serif" font-weight="normal"  stroke="#1a1a1a" stroke-width="0.28">60</text>
<line x1="1097.4" y1="1240.72" x2="1103.4" y2="1240.72" stroke="#333" stroke-width="1.3" />
<text x="1092.4" y="1246.82" font-size="16.85" text-anchor="end" fill="#1a1a1a" font-family="'DejaVu Sans','Liberation Sans',sans-serif" font-weight="normal"  stroke="#1a1a1a" stroke-width="0.28">80</text>
<line x1="1097.4" y1="1187.1" x2="1103.4" y2="1187.1" stroke="#333" stroke-width="1.3" />
<text x="1092.4" y="1193.2" font-size="16.85" text-anchor="end" fill="#1a1a1a" font-family="'DejaVu Sans','Liberation Sans',sans-serif" font-weight="normal"  stroke="#1a1a1a" stroke-width="0.28">100</text>
<line x1="1157.8" y1="1468.3" x2="1157.8" y2="1474.3" stroke="#333" stroke-width="1.3" />
<text x="1157.8" y="1492.8" font-size="16.85" text-anchor="middle" fill="#1a1a1a" font-family="'DejaVu Sans','Liberation Sans',sans-serif" font-weight="normal"  stroke="#1a1a1a" stroke-width="0.28">0%</text>
<line x1="1302.2" y1="1468.3" x2="1302.2" y2="1474.3" stroke="#333" stroke-width="1.3" />
<text x="1302.2" y="1492.8" font-size="16.85" text-anchor="middle" fill="#1a1a1a" font-family="'DejaVu Sans','Liberation Sans',sans-serif" font-weight="normal"  stroke="#1a1a1a" stroke-width="0.28">50%</text>
<line x1="1446.7" y1="1468.3" x2="1446.7" y2="1474.3" stroke="#333" stroke-width="1.3" />
<text x="1446.7" y="1492.8" font-size="16.85" text-anchor="middle" fill="#1a1a1a" font-family="'DejaVu Sans','Liberation Sans',sans-serif" font-weight="normal"  stroke="#1a1a1a" stroke-width="0.28">100%</text>
<rect x="1121.8" y="1453.86" width="36" height="1.34" fill="#238b45" />
<rect x="1266.2" y="1259.49" width="36" height="195.71" fill="#238b45" />
<rect x="1410.7" y="1189.78" width="36" height="265.42" fill="#238b45" />
<rect x="1157.8" y="1454.13" width="36" height="1.07" fill="#a0d48e" />
<rect x="1302.2" y="1254.12" width="36" height="201.08" fill="#a0d48e" />
<rect x="1446.7" y="1191.12" width="36" height="264.08" fill="#a0d48e" />
<polyline points="1139.8,1453.86 1284.2,1259.49 1428.7,1189.78" fill="none" stroke="#238b45" stroke-width="1.6" stroke-linejoin="round" />
<polyline points="1175.8,1454.13 1320.2,1254.12 1464.7,1191.12" fill="none" stroke="#a0d48e" stroke-width="1.6" stroke-linejoin="round" />
<circle cx="1139.73" cy="1448.5" r="3.3" fill="#2f8f4a" fill-opacity="0.85" stroke="#fff" stroke-opacity="0.85" stroke-width="0.8"/>
<circle cx="1133.07" cy="1449.84" r="3.3" fill="#2f8f4a" fill-opacity="0.85" stroke="#fff" stroke-opacity="0.85" stroke-width="0.8"/>
<circle cx="1143.76" cy="1451.18" r="3.3" fill="#2f8f4a" fill-opacity="0.85" stroke="#fff" stroke-opacity="0.85" stroke-width="0.8"/>
<circle cx="1132.38" cy="1452.52" r="3.3" fill="#2f8f4a" fill-opacity="0.85" stroke="#fff" stroke-opacity="0.85" stroke-width="0.8"/>
<circle cx="1139.03" cy="1453.86" r="3.3" fill="#2f8f4a" fill-opacity="0.85" stroke="#fff" stroke-opacity="0.85" stroke-width="0.8"/>
<circle cx="1153.35" cy="1455.2" r="3.3" fill="#2f8f4a" fill-opacity="0.85" stroke="#fff" stroke-opacity="0.85" stroke-width="0.8"/>
<circle cx="1127.85" cy="1455.2" r="3.3" fill="#2f8f4a" fill-opacity="0.85" stroke="#fff" stroke-opacity="0.85" stroke-width="0.8"/>
<circle cx="1134.54" cy="1455.2" r="3.3" fill="#2f8f4a" fill-opacity="0.85" stroke="#fff" stroke-opacity="0.85" stroke-width="0.8"/>
<circle cx="1144.88" cy="1455.2" r="3.3" fill="#2f8f4a" fill-opacity="0.85" stroke="#fff" stroke-opacity="0.85" stroke-width="0.8"/>
<circle cx="1127.85" cy="1455.2" r="3.3" fill="#2f8f4a" fill-opacity="0.85" stroke="#fff" stroke-opacity="0.85" stroke-width="0.8"/>
<circle cx="1279" cy="1236.7" r="3.3" fill="#2f8f4a" fill-opacity="0.85" stroke="#fff" stroke-opacity="0.85" stroke-width="0.8"/>
<circle cx="1275.4" cy="1243.94" r="3.3" fill="#2f8f4a" fill-opacity="0.85" stroke="#fff" stroke-opacity="0.85" stroke-width="0.8"/>
<circle cx="1283.1" cy="1248.49" r="3.3" fill="#2f8f4a" fill-opacity="0.85" stroke="#fff" stroke-opacity="0.85" stroke-width="0.8"/>
<circle cx="1285.8" cy="1254.93" r="3.3" fill="#2f8f4a" fill-opacity="0.85" stroke="#fff" stroke-opacity="0.85" stroke-width="0.8"/>
<circle cx="1293.2" cy="1257.07" r="3.3" fill="#2f8f4a" fill-opacity="0.85" stroke="#fff" stroke-opacity="0.85" stroke-width="0.8"/>
<circle cx="1285.71" cy="1259.76" r="3.3" fill="#2f8f4a" fill-opacity="0.85" stroke="#fff" stroke-opacity="0.85" stroke-width="0.8"/>
<circle cx="1287.2" cy="1264.58" r="3.3" fill="#2f8f4a" fill-opacity="0.85" stroke="#fff" stroke-opacity="0.85" stroke-width="0.8"/>
<circle cx="1277.6" cy="1276.91" r="3.3" fill="#2f8f4a" fill-opacity="0.85" stroke="#fff" stroke-opacity="0.85" stroke-width="0.8"/>
<circle cx="1281.2" cy="1276.91" r="3.3" fill="#2f8f4a" fill-opacity="0.85" stroke="#fff" stroke-opacity="0.85" stroke-width="0.8"/>
<circle cx="1290.8" cy="1280.93" r="3.3" fill="#2f8f4a" fill-opacity="0.85" stroke="#fff" stroke-opacity="0.85" stroke-width="0.8"/>
<circle cx="1442.48" cy="1187.1" r="3.3" fill="#2f8f4a" fill-opacity="0.85" stroke="#fff" stroke-opacity="0.85" stroke-width="0.8"/>
<circle cx="1415.87" cy="1187.1" r="3.3" fill="#2f8f4a" fill-opacity="0.85" stroke="#fff" stroke-opacity="0.85" stroke-width="0.8"/>
<circle cx="1435.2" cy="1187.1" r="3.3" fill="#2f8f4a" fill-opacity="0.85" stroke="#fff" stroke-opacity="0.85" stroke-width="0.8"/>
<circle cx="1428.24" cy="1187.1" r="3.3" fill="#2f8f4a" fill-opacity="0.85" stroke="#fff" stroke-opacity="0.85" stroke-width="0.8"/>
<circle cx="1441.42" cy="1187.1" r="3.3" fill="#2f8f4a" fill-opacity="0.85" stroke="#fff" stroke-opacity="0.85" stroke-width="0.8"/>
<circle cx="1426.02" cy="1187.1" r="3.3" fill="#2f8f4a" fill-opacity="0.85" stroke="#fff" stroke-opacity="0.85" stroke-width="0.8"/>
<circle cx="1440.77" cy="1189.78" r="3.3" fill="#2f8f4a" fill-opacity="0.85" stroke="#fff" stroke-opacity="0.85" stroke-width="0.8"/>
<circle cx="1418.88" cy="1192.46" r="3.3" fill="#2f8f4a" fill-opacity="0.85" stroke="#fff" stroke-opacity="0.85" stroke-width="0.8"/>
<circle cx="1442.95" cy="1193.8" r="3.3" fill="#2f8f4a" fill-opacity="0.85" stroke="#fff" stroke-opacity="0.85" stroke-width="0.8"/>
<circle cx="1426.19" cy="1195.14" r="3.3" fill="#2f8f4a" fill-opacity="0.85" stroke="#fff" stroke-opacity="0.85" stroke-width="0.8"/>
<circle cx="1165.6" cy="1448.5" r="3.3" fill="#98d48f" fill-opacity="0.85" stroke="#fff" stroke-opacity="0.85" stroke-width="0.8"/>
<circle cx="1174.5" cy="1452.52" r="3.3" fill="#98d48f" fill-opacity="0.85" stroke="#fff" stroke-opacity="0.85" stroke-width="0.8"/>
<circle cx="1183.6" cy="1453.86" r="3.3" fill="#98d48f" fill-opacity="0.85" stroke="#fff" stroke-opacity="0.85" stroke-width="0.8"/>
<circle cx="1181.72" cy="1454.4" r="3.3" fill="#98d48f" fill-opacity="0.85" stroke="#fff" stroke-opacity="0.85" stroke-width="0.8"/>
<circle cx="1182.48" cy="1455.2" r="3.3" fill="#98d48f" fill-opacity="0.85" stroke="#fff" stroke-opacity="0.85" stroke-width="0.8"/>
<circle cx="1173.89" cy="1455.2" r="3.3" fill="#98d48f" fill-opacity="0.85" stroke="#fff" stroke-opacity="0.85" stroke-width="0.8"/>
<circle cx="1184.44" cy="1455.2" r="3.3" fill="#98d48f" fill-opacity="0.85" stroke="#fff" stroke-opacity="0.85" stroke-width="0.8"/>
<circle cx="1176.75" cy="1455.2" r="3.3" fill="#98d48f" fill-opacity="0.85" stroke="#fff" stroke-opacity="0.85" stroke-width="0.8"/>
<circle cx="1163.71" cy="1455.2" r="3.3" fill="#98d48f" fill-opacity="0.85" stroke="#fff" stroke-opacity="0.85" stroke-width="0.8"/>
<circle cx="1174.53" cy="1455.2" r="3.3" fill="#98d48f" fill-opacity="0.85" stroke="#fff" stroke-opacity="0.85" stroke-width="0.8"/>
<circle cx="1311.7" cy="1227.58" r="3.3" fill="#98d48f" fill-opacity="0.85" stroke="#fff" stroke-opacity="0.85" stroke-width="0.8"/>
<circle cx="1328.7" cy="1239.11" r="3.3" fill="#98d48f" fill-opacity="0.85" stroke="#fff" stroke-opacity="0.85" stroke-width="0.8"/>
<circle cx="1317.2" cy="1242.6" r="3.3" fill="#98d48f" fill-opacity="0.85" stroke="#fff" stroke-opacity="0.85" stroke-width="0.8"/>
<circle cx="1324.8" cy="1248.76" r="3.3" fill="#98d48f" fill-opacity="0.85" stroke="#fff" stroke-opacity="0.85" stroke-width="0.8"/>
<circle cx="1319.25" cy="1254.12" r="3.3" fill="#98d48f" fill-opacity="0.85" stroke="#fff" stroke-opacity="0.85" stroke-width="0.8"/>
<circle cx="1324.91" cy="1259.49" r="3.3" fill="#98d48f" fill-opacity="0.85" stroke="#fff" stroke-opacity="0.85" stroke-width="0.8"/>
<circle cx="1313.6" cy="1263.78" r="3.3" fill="#98d48f" fill-opacity="0.85" stroke="#fff" stroke-opacity="0.85" stroke-width="0.8"/>
<circle cx="1323.2" cy="1269.94" r="3.3" fill="#98d48f" fill-opacity="0.85" stroke="#fff" stroke-opacity="0.85" stroke-width="0.8"/>
<circle cx="1319.1" cy="1273.96" r="3.3" fill="#98d48f" fill-opacity="0.85" stroke="#fff" stroke-opacity="0.85" stroke-width="0.8"/>
<circle cx="1326.8" cy="1279.06" r="3.3" fill="#98d48f" fill-opacity="0.85" stroke="#fff" stroke-opacity="0.85" stroke-width="0.8"/>
<circle cx="1454.57" cy="1187.1" r="3.3" fill="#98d48f" fill-opacity="0.85" stroke="#fff" stroke-opacity="0.85" stroke-width="0.8"/>
<circle cx="1468.04" cy="1187.1" r="3.3" fill="#98d48f" fill-opacity="0.85" stroke="#fff" stroke-opacity="0.85" stroke-width="0.8"/>
<circle cx="1455.19" cy="1187.1" r="3.3" fill="#98d48f" fill-opacity="0.85" stroke="#fff" stroke-opacity="0.85" stroke-width="0.8"/>
<circle cx="1470.82" cy="1187.1" r="3.3" fill="#98d48f" fill-opacity="0.85" stroke="#fff" stroke-opacity="0.85" stroke-width="0.8"/>
<circle cx="1467.81" cy="1187.1" r="3.3" fill="#98d48f" fill-opacity="0.85" stroke="#fff" stroke-opacity="0.85" stroke-width="0.8"/>
<circle cx="1461.37" cy="1189.78" r="3.3" fill="#98d48f" fill-opacity="0.85" stroke="#fff" stroke-opacity="0.85" stroke-width="0.8"/>
<circle cx="1468.08" cy="1193.8" r="3.3" fill="#98d48f" fill-opacity="0.85" stroke="#fff" stroke-opacity="0.85" stroke-width="0.8"/>
<circle cx="1466.61" cy="1196.48" r="3.3" fill="#98d48f" fill-opacity="0.85" stroke="#fff" stroke-opacity="0.85" stroke-width="0.8"/>
<circle cx="1451.54" cy="1197.82" r="3.3" fill="#98d48f" fill-opacity="0.85" stroke="#fff" stroke-opacity="0.85" stroke-width="0.8"/>
<circle cx="1465.57" cy="1204.53" r="3.3" fill="#98d48f" fill-opacity="0.85" stroke="#fff" stroke-opacity="0.85" stroke-width="0.8"/>
<line x1="1139.8" y1="1453.06" x2="1139.8" y2="1454.66" stroke="#222" stroke-width="1.4" />
<line x1="1135" y1="1453.06" x2="1144.6" y2="1453.06" stroke="#222" stroke-width="1.4" />
<line x1="1135" y1="1454.66" x2="1144.6" y2="1454.66" stroke="#222" stroke-width="1.4" />
<line x1="1284.2" y1="1254.66" x2="1284.2" y2="1264.31" stroke="#222" stroke-width="1.4" />
<line x1="1279.4" y1="1254.66" x2="1289" y2="1254.66" stroke="#222" stroke-width="1.4" />
<line x1="1279.4" y1="1264.31" x2="1289" y2="1264.31" stroke="#222" stroke-width="1.4" />
<line x1="1428.7" y1="1188.71" x2="1428.7" y2="1190.85" stroke="#222" stroke-width="1.4" />
<line x1="1423.9" y1="1188.71" x2="1433.5" y2="1188.71" stroke="#222" stroke-width="1.4" />
<line x1="1423.9" y1="1190.85" x2="1433.5" y2="1190.85" stroke="#222" stroke-width="1.4" />
<line x1="1175.8" y1="1453.59" x2="1175.8" y2="1454.66" stroke="#222" stroke-width="1.4" />
<line x1="1171" y1="1453.59" x2="1180.6" y2="1453.59" stroke="#222" stroke-width="1.4" />
<line x1="1171" y1="1454.66" x2="1180.6" y2="1454.66" stroke="#222" stroke-width="1.4" />
<line x1="1320.2" y1="1249.03" x2="1320.2" y2="1259.22" stroke="#222" stroke-width="1.4" />
<line x1="1315.4" y1="1249.03" x2="1325" y2="1249.03" stroke="#222" stroke-width="1.4" />
<line x1="1315.4" y1="1259.22" x2="1325" y2="1259.22" stroke="#222" stroke-width="1.4" />
<line x1="1464.7" y1="1189.24" x2="1464.7" y2="1193" stroke="#222" stroke-width="1.4" />
<line x1="1459.9" y1="1189.24" x2="1469.5" y2="1189.24" stroke="#222" stroke-width="1.4" />
<line x1="1459.9" y1="1193" x2="1469.5" y2="1193" stroke="#222" stroke-width="1.4" />
<text x="1298.6" y="1527" font-size="16.85" text-anchor="middle" fill="#1a1a1a" font-family="'DejaVu Sans','Liberation Sans',sans-serif" font-weight="normal"  stroke="#1a1a1a" stroke-width="0.28">Cues</text>
<line x1="1601.5" y1="1184.4" x2="1601.5" y2="1468.4" stroke="#555555" stroke-width="1.3" />
<line x1="1601.5" y1="1468.4" x2="1999" y2="1468.4" stroke="#555555" stroke-width="1.3" />
<line x1="1595.5" y1="1455.3" x2="1601.5" y2="1455.3" stroke="#333" stroke-width="1.3" />
<text x="1590.5" y="1461.4" font-size="16.85" text-anchor="end" fill="#1a1a1a" font-family="'DejaVu Sans','Liberation Sans',sans-serif" font-weight="normal"  stroke="#1a1a1a" stroke-width="0.28">0</text>
<line x1="1595.5" y1="1401.68" x2="1601.5" y2="1401.68" stroke="#333" stroke-width="1.3" />
<text x="1590.5" y="1407.78" font-size="16.85" text-anchor="end" fill="#1a1a1a" font-family="'DejaVu Sans','Liberation Sans',sans-serif" font-weight="normal"  stroke="#1a1a1a" stroke-width="0.28">20</text>
<line x1="1595.5" y1="1348.06" x2="1601.5" y2="1348.06" stroke="#333" stroke-width="1.3" />
<text x="1590.5" y="1354.16" font-size="16.85" text-anchor="end" fill="#1a1a1a" font-family="'DejaVu Sans','Liberation Sans',sans-serif" font-weight="normal"  stroke="#1a1a1a" stroke-width="0.28">40</text>
<line x1="1595.5" y1="1294.44" x2="1601.5" y2="1294.44" stroke="#333" stroke-width="1.3" />
<text x="1590.5" y="1300.54" font-size="16.85" text-anchor="end" fill="#1a1a1a" font-family="'DejaVu Sans','Liberation Sans',sans-serif" font-weight="normal"  stroke="#1a1a1a" stroke-width="0.28">60</text>
<line x1="1595.5" y1="1240.82" x2="1601.5" y2="1240.82" stroke="#333" stroke-width="1.3" />
<text x="1590.5" y="1246.92" font-size="16.85" text-anchor="end" fill="#1a1a1a" font-family="'DejaVu Sans','Liberation Sans',sans-serif" font-weight="normal"  stroke="#1a1a1a" stroke-width="0.28">80</text>
<line x1="1595.5" y1="1187.2" x2="1601.5" y2="1187.2" stroke="#333" stroke-width="1.3" />
<text x="1590.5" y="1193.3" font-size="16.85" text-anchor="end" fill="#1a1a1a" font-family="'DejaVu Sans','Liberation Sans',sans-serif" font-weight="normal"  stroke="#1a1a1a" stroke-width="0.28">100</text>
<line x1="1645.3" y1="1468.4" x2="1645.3" y2="1474.4" stroke="#333" stroke-width="1.3" />
<text x="1645.3" y="1492.9" font-size="16.85" text-anchor="middle" fill="#1a1a1a" font-family="'DejaVu Sans','Liberation Sans',sans-serif" font-weight="normal"  stroke="#1a1a1a" stroke-width="0.28">0%</text>
<line x1="1748.4" y1="1468.4" x2="1748.4" y2="1474.4" stroke="#333" stroke-width="1.3" />
<text x="1748.4" y="1492.9" font-size="16.85" text-anchor="middle" fill="#1a1a1a" font-family="'DejaVu Sans','Liberation Sans',sans-serif" font-weight="normal"  stroke="#1a1a1a" stroke-width="0.28">25%</text>
<line x1="1851.6" y1="1468.4" x2="1851.6" y2="1474.4" stroke="#333" stroke-width="1.3" />
<text x="1851.6" y="1492.9" font-size="16.85" text-anchor="middle" fill="#1a1a1a" font-family="'DejaVu Sans','Liberation Sans',sans-serif" font-weight="normal"  stroke="#1a1a1a" stroke-width="0.28">50%</text>
<line x1="1955.3" y1="1468.4" x2="1955.3" y2="1474.4" stroke="#333" stroke-width="1.3" />
<text x="1955.3" y="1492.9" font-size="16.85" text-anchor="middle" fill="#1a1a1a" font-family="'DejaVu Sans','Liberation Sans',sans-serif" font-weight="normal"  stroke="#1a1a1a" stroke-width="0.28">100%</text>
<rect x="1619.7" y="1454.5" width="25.6" height="0.8" fill="#238b45" />
<rect x="1722.8" y="1355.57" width="25.6" height="99.73" fill="#238b45" />
<rect x="1826" y="1288.81" width="25.6" height="166.49" fill="#238b45" />
<rect x="1929.7" y="1189.61" width="25.6" height="265.69" fill="#238b45" />
<rect x="1645.3" y="1453.16" width="25.6" height="2.14" fill="#a0d48e" />
<rect x="1748.4" y="1359.86" width="25.6" height="95.44" fill="#a0d48e" />
<rect x="1851.6" y="1285.59" width="25.6" height="169.71" fill="#a0d48e" />
<rect x="1955.3" y="1193.9" width="25.6" height="261.4" fill="#a0d48e" />
<polyline points="1632.5,1454.5 1735.6,1355.57 1838.8,1288.81 1942.5,1189.61" fill="none" stroke="#238b45" stroke-width="1.6" stroke-linejoin="round" />
<polyline points="1658.1,1453.16 1761.2,1359.86 1864.4,1285.59 1968.1,1193.9" fill="none" stroke="#a0d48e" stroke-width="1.6" stroke-linejoin="round" />
<circle cx="1631.8" cy="1446.72" r="3.3" fill="#2f8f4a" fill-opacity="0.85" stroke="#fff" stroke-opacity="0.85" stroke-width="0.8"/>
<circle cx="1634.1" cy="1452.62" r="3.3" fill="#2f8f4a" fill-opacity="0.85" stroke="#fff" stroke-opacity="0.85" stroke-width="0.8"/>
<circle cx="1627.7" cy="1453.96" r="3.3" fill="#2f8f4a" fill-opacity="0.85" stroke="#fff" stroke-opacity="0.85" stroke-width="0.8"/>
<circle cx="1638.81" cy="1455.3" r="3.3" fill="#2f8f4a" fill-opacity="0.85" stroke="#fff" stroke-opacity="0.85" stroke-width="0.8"/>
<circle cx="1631.83" cy="1455.3" r="3.3" fill="#2f8f4a" fill-opacity="0.85" stroke="#fff" stroke-opacity="0.85" stroke-width="0.8"/>
<circle cx="1629.07" cy="1455.3" r="3.3" fill="#2f8f4a" fill-opacity="0.85" stroke="#fff" stroke-opacity="0.85" stroke-width="0.8"/>
<circle cx="1640.63" cy="1455.3" r="3.3" fill="#2f8f4a" fill-opacity="0.85" stroke="#fff" stroke-opacity="0.85" stroke-width="0.8"/>
<circle cx="1638.49" cy="1455.3" r="3.3" fill="#2f8f4a" fill-opacity="0.85" stroke="#fff" stroke-opacity="0.85" stroke-width="0.8"/>
<circle cx="1639.86" cy="1455.3" r="3.3" fill="#2f8f4a" fill-opacity="0.85" stroke="#fff" stroke-opacity="0.85" stroke-width="0.8"/>
<circle cx="1635.9" cy="1455.3" r="3.3" fill="#2f8f4a" fill-opacity="0.85" stroke="#fff" stroke-opacity="0.85" stroke-width="0.8"/>
<circle cx="1741.6" cy="1331.17" r="3.3" fill="#2f8f4a" fill-opacity="0.85" stroke="#fff" stroke-opacity="0.85" stroke-width="0.8"/>
<circle cx="1730.7" cy="1346.99" r="3.3" fill="#2f8f4a" fill-opacity="0.85" stroke="#fff" stroke-opacity="0.85" stroke-width="0.8"/>
<circle cx="1741.94" cy="1352.08" r="3.3" fill="#2f8f4a" fill-opacity="0.85" stroke="#fff" stroke-opacity="0.85" stroke-width="0.8"/>
<circle cx="1731.93" cy="1353.42" r="3.3" fill="#2f8f4a" fill-opacity="0.85" stroke="#fff" stroke-opacity="0.85" stroke-width="0.8"/>
<circle cx="1731.93" cy="1354.76" r="3.3" fill="#2f8f4a" fill-opacity="0.85" stroke="#fff" stroke-opacity="0.85" stroke-width="0.8"/>
<circle cx="1739.56" cy="1357.71" r="3.3" fill="#2f8f4a" fill-opacity="0.85" stroke="#fff" stroke-opacity="0.85" stroke-width="0.8"/>
<circle cx="1731.2" cy="1361.73" r="3.3" fill="#2f8f4a" fill-opacity="0.85" stroke="#fff" stroke-opacity="0.85" stroke-width="0.8"/>
<circle cx="1735.9" cy="1365.75" r="3.3" fill="#2f8f4a" fill-opacity="0.85" stroke="#fff" stroke-opacity="0.85" stroke-width="0.8"/>
<circle cx="1740.3" cy="1371.38" r="3.3" fill="#2f8f4a" fill-opacity="0.85" stroke="#fff" stroke-opacity="0.85" stroke-width="0.8"/>
<circle cx="1732.11" cy="1361.46" r="3.3" fill="#2f8f4a" fill-opacity="0.85" stroke="#fff" stroke-opacity="0.85" stroke-width="0.8"/>
<circle cx="1839.3" cy="1255.03" r="3.3" fill="#2f8f4a" fill-opacity="0.85" stroke="#fff" stroke-opacity="0.85" stroke-width="0.8"/>
<circle cx="1833.8" cy="1266.02" r="3.3" fill="#2f8f4a" fill-opacity="0.85" stroke="#fff" stroke-opacity="0.85" stroke-width="0.8"/>
<circle cx="1842" cy="1266.02" r="3.3" fill="#2f8f4a" fill-opacity="0.85" stroke="#fff" stroke-opacity="0.85" stroke-width="0.8"/>
<circle cx="1845.3" cy="1277.55" r="3.3" fill="#2f8f4a" fill-opacity="0.85" stroke="#fff" stroke-opacity="0.85" stroke-width="0.8"/>
<circle cx="1838.08" cy="1304.9" r="3.3" fill="#2f8f4a" fill-opacity="0.85" stroke="#fff" stroke-opacity="0.85" stroke-width="0.8"/>
<circle cx="1846.95" cy="1307.04" r="3.3" fill="#2f8f4a" fill-opacity="0.85" stroke="#fff" stroke-opacity="0.85" stroke-width="0.8"/>
<circle cx="1835.85" cy="1311.87" r="3.3" fill="#2f8f4a" fill-opacity="0.85" stroke="#fff" stroke-opacity="0.85" stroke-width="0.8"/>
<circle cx="1838.96" cy="1312.94" r="3.3" fill="#2f8f4a" fill-opacity="0.85" stroke="#fff" stroke-opacity="0.85" stroke-width="0.8"/>
<circle cx="1838.8" cy="1318.03" r="3.3" fill="#2f8f4a" fill-opacity="0.85" stroke="#fff" stroke-opacity="0.85" stroke-width="0.8"/>
<circle cx="1848.24" cy="1270.31" r="3.3" fill="#2f8f4a" fill-opacity="0.85" stroke="#fff" stroke-opacity="0.85" stroke-width="0.8"/>
<circle cx="1941.38" cy="1187.2" r="3.3" fill="#2f8f4a" fill-opacity="0.85" stroke="#fff" stroke-opacity="0.85" stroke-width="0.8"/>
<circle cx="1938.28" cy="1187.2" r="3.3" fill="#2f8f4a" fill-opacity="0.85" stroke="#fff" stroke-opacity="0.85" stroke-width="0.8"/>
<circle cx="1950.89" cy="1187.2" r="3.3" fill="#2f8f4a" fill-opacity="0.85" stroke="#fff" stroke-opacity="0.85" stroke-width="0.8"/>
<circle cx="1942.18" cy="1187.2" r="3.3" fill="#2f8f4a" fill-opacity="0.85" stroke="#fff" stroke-opacity="0.85" stroke-width="0.8"/>
<circle cx="1934.04" cy="1187.2" r="3.3" fill="#2f8f4a" fill-opacity="0.85" stroke="#fff" stroke-opacity="0.85" stroke-width="0.8"/>
<circle cx="1947.62" cy="1187.2" r="3.3" fill="#2f8f4a" fill-opacity="0.85" stroke="#fff" stroke-opacity="0.85" stroke-width="0.8"/>
<circle cx="1933.8" cy="1188.54" r="3.3" fill="#2f8f4a" fill-opacity="0.85" stroke="#fff" stroke-opacity="0.85" stroke-width="0.8"/>
<circle cx="1936.41" cy="1192.56" r="3.3" fill="#2f8f4a" fill-opacity="0.85" stroke="#fff" stroke-opacity="0.85" stroke-width="0.8"/>
<circle cx="1933.77" cy="1195.24" r="3.3" fill="#2f8f4a" fill-opacity="0.85" stroke="#fff" stroke-opacity="0.85" stroke-width="0.8"/>
<circle cx="1945.13" cy="1197.92" r="3.3" fill="#2f8f4a" fill-opacity="0.85" stroke="#fff" stroke-opacity="0.85" stroke-width="0.8"/>
<circle cx="1661.4" cy="1443.24" r="3.3" fill="#98d48f" fill-opacity="0.85" stroke="#fff" stroke-opacity="0.85" stroke-width="0.8"/>
<circle cx="1655.81" cy="1449.4" r="3.3" fill="#98d48f" fill-opacity="0.85" stroke="#fff" stroke-opacity="0.85" stroke-width="0.8"/>
<circle cx="1664.69" cy="1451.28" r="3.3" fill="#98d48f" fill-opacity="0.85" stroke="#fff" stroke-opacity="0.85" stroke-width="0.8"/>
<circle cx="1652.93" cy="1452.62" r="3.3" fill="#98d48f" fill-opacity="0.85" stroke="#fff" stroke-opacity="0.85" stroke-width="0.8"/>
<circle cx="1657.73" cy="1453.96" r="3.3" fill="#98d48f" fill-opacity="0.85" stroke="#fff" stroke-opacity="0.85" stroke-width="0.8"/>
<circle cx="1653.46" cy="1455.3" r="3.3" fill="#98d48f" fill-opacity="0.85" stroke="#fff" stroke-opacity="0.85" stroke-width="0.8"/>
<circle cx="1658.96" cy="1455.3" r="3.3" fill="#98d48f" fill-opacity="0.85" stroke="#fff" stroke-opacity="0.85" stroke-width="0.8"/>
<circle cx="1649.4" cy="1455.3" r="3.3" fill="#98d48f" fill-opacity="0.85" stroke="#fff" stroke-opacity="0.85" stroke-width="0.8"/>
<circle cx="1656.39" cy="1455.3" r="3.3" fill="#98d48f" fill-opacity="0.85" stroke="#fff" stroke-opacity="0.85" stroke-width="0.8"/>
<circle cx="1654.33" cy="1455.3" r="3.3" fill="#98d48f" fill-opacity="0.85" stroke="#fff" stroke-opacity="0.85" stroke-width="0.8"/>
<circle cx="1754.4" cy="1348.06" r="3.3" fill="#98d48f" fill-opacity="0.85" stroke="#fff" stroke-opacity="0.85" stroke-width="0.8"/>
<circle cx="1755.32" cy="1348.6" r="3.3" fill="#98d48f" fill-opacity="0.85" stroke="#fff" stroke-opacity="0.85" stroke-width="0.8"/>
<circle cx="1770.26" cy="1352.08" r="3.3" fill="#98d48f" fill-opacity="0.85" stroke="#fff" stroke-opacity="0.85" stroke-width="0.8"/>
<circle cx="1761.08" cy="1355.03" r="3.3" fill="#98d48f" fill-opacity="0.85" stroke="#fff" stroke-opacity="0.85" stroke-width="0.8"/>
<circle cx="1759.1" cy="1357.71" r="3.3" fill="#98d48f" fill-opacity="0.85" stroke="#fff" stroke-opacity="0.85" stroke-width="0.8"/>
<circle cx="1763.6" cy="1361.46" r="3.3" fill="#98d48f" fill-opacity="0.85" stroke="#fff" stroke-opacity="0.85" stroke-width="0.8"/>
<circle cx="1754.43" cy="1361.73" r="3.3" fill="#98d48f" fill-opacity="0.85" stroke="#fff" stroke-opacity="0.85" stroke-width="0.8"/>
<circle cx="1754.93" cy="1367.63" r="3.3" fill="#98d48f" fill-opacity="0.85" stroke="#fff" stroke-opacity="0.85" stroke-width="0.8"/>
<circle cx="1757.7" cy="1372.19" r="3.3" fill="#98d48f" fill-opacity="0.85" stroke="#fff" stroke-opacity="0.85" stroke-width="0.8"/>
<circle cx="1764.8" cy="1378.09" r="3.3" fill="#98d48f" fill-opacity="0.85" stroke="#fff" stroke-opacity="0.85" stroke-width="0.8"/>
<circle cx="1871.3" cy="1246.72" r="3.3" fill="#98d48f" fill-opacity="0.85" stroke="#fff" stroke-opacity="0.85" stroke-width="0.8"/>
<circle cx="1865.2" cy="1252.35" r="3.3" fill="#98d48f" fill-opacity="0.85" stroke="#fff" stroke-opacity="0.85" stroke-width="0.8"/>
<circle cx="1869.4" cy="1266.02" r="3.3" fill="#98d48f" fill-opacity="0.85" stroke="#fff" stroke-opacity="0.85" stroke-width="0.8"/>
<circle cx="1858.4" cy="1270.04" r="3.3" fill="#98d48f" fill-opacity="0.85" stroke="#fff" stroke-opacity="0.85" stroke-width="0.8"/>
<circle cx="1867.2" cy="1274.06" r="3.3" fill="#98d48f" fill-opacity="0.85" stroke="#fff" stroke-opacity="0.85" stroke-width="0.8"/>
<circle cx="1869.56" cy="1294.44" r="3.3" fill="#98d48f" fill-opacity="0.85" stroke="#fff" stroke-opacity="0.85" stroke-width="0.8"/>
<circle cx="1857.49" cy="1306.5" r="3.3" fill="#98d48f" fill-opacity="0.85" stroke="#fff" stroke-opacity="0.85" stroke-width="0.8"/>
<circle cx="1858.68" cy="1306.5" r="3.3" fill="#98d48f" fill-opacity="0.85" stroke="#fff" stroke-opacity="0.85" stroke-width="0.8"/>
<circle cx="1863.47" cy="1309.72" r="3.3" fill="#98d48f" fill-opacity="0.85" stroke="#fff" stroke-opacity="0.85" stroke-width="0.8"/>
<circle cx="1863.9" cy="1316.69" r="3.3" fill="#98d48f" fill-opacity="0.85" stroke="#fff" stroke-opacity="0.85" stroke-width="0.8"/>
<circle cx="1958.49" cy="1187.2" r="3.3" fill="#98d48f" fill-opacity="0.85" stroke="#fff" stroke-opacity="0.85" stroke-width="0.8"/>
<circle cx="1975.63" cy="1187.2" r="3.3" fill="#98d48f" fill-opacity="0.85" stroke="#fff" stroke-opacity="0.85" stroke-width="0.8"/>
<circle cx="1972.65" cy="1187.2" r="3.3" fill="#98d48f" fill-opacity="0.85" stroke="#fff" stroke-opacity="0.85" stroke-width="0.8"/>
<circle cx="1958.23" cy="1187.2" r="3.3" fill="#98d48f" fill-opacity="0.85" stroke="#fff" stroke-opacity="0.85" stroke-width="0.8"/>
<circle cx="1969.12" cy="1191.22" r="3.3" fill="#98d48f" fill-opacity="0.85" stroke="#fff" stroke-opacity="0.85" stroke-width="0.8"/>
<circle cx="1962.75" cy="1195.24" r="3.3" fill="#98d48f" fill-opacity="0.85" stroke="#fff" stroke-opacity="0.85" stroke-width="0.8"/>
<circle cx="1975.92" cy="1197.92" r="3.3" fill="#98d48f" fill-opacity="0.85" stroke="#fff" stroke-opacity="0.85" stroke-width="0.8"/>
<circle cx="1975.34" cy="1199.26" r="3.3" fill="#98d48f" fill-opacity="0.85" stroke="#fff" stroke-opacity="0.85" stroke-width="0.8"/>
<circle cx="1964.04" cy="1201.95" r="3.3" fill="#98d48f" fill-opacity="0.85" stroke="#fff" stroke-opacity="0.85" stroke-width="0.8"/>
<circle cx="1970.12" cy="1205.16" r="3.3" fill="#98d48f" fill-opacity="0.85" stroke="#fff" stroke-opacity="0.85" stroke-width="0.8"/>
<line x1="1632.5" y1="1453.69" x2="1632.5" y2="1455.3" stroke="#222" stroke-width="1.4" />
<line x1="1628.3" y1="1453.69" x2="1636.7" y2="1453.69" stroke="#222" stroke-width="1.4" />
<line x1="1628.3" y1="1455.3" x2="1636.7" y2="1455.3" stroke="#222" stroke-width="1.4" />
<line x1="1735.6" y1="1351.28" x2="1735.6" y2="1359.86" stroke="#222" stroke-width="1.4" />
<line x1="1731.4" y1="1351.28" x2="1739.8" y2="1351.28" stroke="#222" stroke-width="1.4" />
<line x1="1731.4" y1="1359.86" x2="1739.8" y2="1359.86" stroke="#222" stroke-width="1.4" />
<line x1="1838.8" y1="1281.17" x2="1838.8" y2="1296.45" stroke="#222" stroke-width="1.4" />
<line x1="1834.6" y1="1281.17" x2="1843" y2="1281.17" stroke="#222" stroke-width="1.4" />
<line x1="1834.6" y1="1296.45" x2="1843" y2="1296.45" stroke="#222" stroke-width="1.4" />
<line x1="1942.5" y1="1188.54" x2="1942.5" y2="1190.69" stroke="#222" stroke-width="1.4" />
<line x1="1938.3" y1="1188.54" x2="1946.7" y2="1188.54" stroke="#222" stroke-width="1.4" />
<line x1="1938.3" y1="1190.69" x2="1946.7" y2="1190.69" stroke="#222" stroke-width="1.4" />
<line x1="1658.1" y1="1452.35" x2="1658.1" y2="1453.96" stroke="#222" stroke-width="1.4" />
<line x1="1653.9" y1="1452.35" x2="1662.3" y2="1452.35" stroke="#222" stroke-width="1.4" />
<line x1="1653.9" y1="1453.96" x2="1662.3" y2="1453.96" stroke="#222" stroke-width="1.4" />
<line x1="1761.2" y1="1356.64" x2="1761.2" y2="1363.07" stroke="#222" stroke-width="1.4" />
<line x1="1757" y1="1356.64" x2="1765.4" y2="1356.64" stroke="#222" stroke-width="1.4" />
<line x1="1757" y1="1363.07" x2="1765.4" y2="1363.07" stroke="#222" stroke-width="1.4" />
<line x1="1864.4" y1="1277.55" x2="1864.4" y2="1293.64" stroke="#222" stroke-width="1.4" />
<line x1="1860.2" y1="1277.55" x2="1868.6" y2="1277.55" stroke="#222" stroke-width="1.4" />
<line x1="1860.2" y1="1293.64" x2="1868.6" y2="1293.64" stroke="#222" stroke-width="1.4" />
<line x1="1968.1" y1="1192.29" x2="1968.1" y2="1195.51" stroke="#222" stroke-width="1.4" />
<line x1="1963.9" y1="1192.29" x2="1972.3" y2="1192.29" stroke="#222" stroke-width="1.4" />
<line x1="1963.9" y1="1195.51" x2="1972.3" y2="1195.51" stroke="#222" stroke-width="1.4" />
<polygon points="620.2,839.9 690.2,839.9 761,839.9 831.5,839.9 902,847.35 972.5,884.61 972.5,904.48 902,852.32 831.5,839.9 761,839.9 690.2,839.9 620.2,839.9" fill="#3b7a3b" fill-opacity="0.24"/>
<polygon points="620.2,815.68 690.2,815.68 761,855.43 831.5,805.74 902,835.55 972.5,1001.36 972.5,1053.52 902,883.99 831.5,854.18 761,903.86 690.2,864.12 620.2,864.12" fill="#a1d99b" fill-opacity="0.28"/>
<polyline points="620.2,839.9 690.2,839.9 761,839.9 831.5,839.9 902,849.84 972.5,894.55" fill="none" stroke="#238b45" stroke-width="1.45" stroke-linejoin="round" />
<polyline points="620.2,839.9 690.2,839.9 761,879.64 831.5,829.96 902,859.77 972.5,1027.44" fill="none" stroke="#7cc47a" stroke-width="1.2" stroke-linejoin="round" />
<line x1="602.3" y1="793.8" x2="602.3" y2="1065.2" stroke="#555555" stroke-width="1.3" />
<line x1="602.3" y1="1065.2" x2="990.4" y2="1065.2" stroke="#555555" stroke-width="1.3" />
<line x1="596.3" y1="839.9" x2="602.3" y2="839.9" stroke="#333" stroke-width="1.3" />
<text x="591.3" y="846" font-size="16.85" text-anchor="end" fill="#1a1a1a" font-family="'DejaVu Sans','Liberation Sans',sans-serif" font-weight="normal"  stroke="#1a1a1a" stroke-width="0.28">1.00</text>
<line x1="596.3" y1="902" x2="602.3" y2="902" stroke="#333" stroke-width="1.3" />
<text x="591.3" y="908.1" font-size="16.85" text-anchor="end" fill="#1a1a1a" font-family="'DejaVu Sans','Liberation Sans',sans-serif" font-weight="normal"  stroke="#1a1a1a" stroke-width="0.28">0.95</text>
<line x1="596.3" y1="964.1" x2="602.3" y2="964.1" stroke="#333" stroke-width="1.3" />
<text x="591.3" y="970.2" font-size="16.85" text-anchor="end" fill="#1a1a1a" font-family="'DejaVu Sans','Liberation Sans',sans-serif" font-weight="normal"  stroke="#1a1a1a" stroke-width="0.28">0.90</text>
<line x1="596.3" y1="1026.2" x2="602.3" y2="1026.2" stroke="#333" stroke-width="1.3" />
<text x="591.3" y="1032.3" font-size="16.85" text-anchor="end" fill="#1a1a1a" font-family="'DejaVu Sans','Liberation Sans',sans-serif" font-weight="normal"  stroke="#1a1a1a" stroke-width="0.28">0.85</text>
<line x1="620.2" y1="1065.2" x2="620.2" y2="1071.2" stroke="#333" stroke-width="1.3" />
<text x="620.2" y="1089.7" font-size="16.85" text-anchor="middle" fill="#1a1a1a" font-family="'DejaVu Sans','Liberation Sans',sans-serif" font-weight="normal"  stroke="#1a1a1a" stroke-width="0.28">1</text>
<line x1="690.2" y1="1065.2" x2="690.2" y2="1071.2" stroke="#333" stroke-width="1.3" />
<text x="690.2" y="1089.7" font-size="16.85" text-anchor="middle" fill="#1a1a1a" font-family="'DejaVu Sans','Liberation Sans',sans-serif" font-weight="normal"  stroke="#1a1a1a" stroke-width="0.28">2</text>
<line x1="761" y1="1065.2" x2="761" y2="1071.2" stroke="#333" stroke-width="1.3" />
<text x="761" y="1089.7" font-size="16.85" text-anchor="middle" fill="#1a1a1a" font-family="'DejaVu Sans','Liberation Sans',sans-serif" font-weight="normal"  stroke="#1a1a1a" stroke-width="0.28">5</text>
<line x1="831.5" y1="1065.2" x2="831.5" y2="1071.2" stroke="#333" stroke-width="1.3" />
<text x="831.5" y="1089.7" font-size="16.85" text-anchor="middle" fill="#1a1a1a" font-family="'DejaVu Sans','Liberation Sans',sans-serif" font-weight="normal"  stroke="#1a1a1a" stroke-width="0.28">7</text>
<line x1="902" y1="1065.2" x2="902" y2="1071.2" stroke="#333" stroke-width="1.3" />
<text x="902" y="1089.7" font-size="16.85" text-anchor="middle" fill="#1a1a1a" font-family="'DejaVu Sans','Liberation Sans',sans-serif" font-weight="normal"  stroke="#1a1a1a" stroke-width="0.28">10</text>
<line x1="972.5" y1="1065.2" x2="972.5" y2="1071.2" stroke="#333" stroke-width="1.3" />
<text x="972.5" y="1089.7" font-size="16.85" text-anchor="middle" fill="#1a1a1a" font-family="'DejaVu Sans','Liberation Sans',sans-serif" font-weight="normal"  stroke="#1a1a1a" stroke-width="0.28">15</text>
<text x="543" y="930" font-size="16.85" text-anchor="middle" fill="#1a1a1a" stroke="#1a1a1a" stroke-width="0.28" font-family="'DejaVu Sans','Liberation Sans',sans-serif" transform="rotate(-90 543 930)">Performance Ratio</text>
<rect x="610.9" y="1003.5" width="129.2" height="53.9" rx="3" fill="#fff" fill-opacity="0.8" stroke="#d9d9d9" stroke-width="1"/>
<line x1="617" y1="1017" x2="651.5" y2="1017" stroke="#4ea86b" stroke-width="1.8" />
<line x1="617" y1="1041.8" x2="651.5" y2="1041.8" stroke="#93d389" stroke-width="1.3" />
<text x="664.7" y="1023.1" font-size="16.85" text-anchor="start" fill="#1a1a1a" font-family="'DejaVu Sans','Liberation Sans',sans-serif" font-weight="normal"  stroke="#1a1a1a" stroke-width="0.28">hcDRQN</text>
<text x="664.7" y="1047.9" font-size="16.85" text-anchor="start" fill="#1a1a1a" font-family="'DejaVu Sans','Liberation Sans',sans-serif" font-weight="normal"  stroke="#1a1a1a" stroke-width="0.28">hcDQN</text>
<polygon points="1124.3,806 1194.3,806 1265,806 1335.5,806 1405.8,806 1476.3,845.48 1476.3,900.92 1405.8,806 1335.5,806 1265,806 1194.3,806 1124.3,806" fill="#3b7a3b" fill-opacity="0.24"/>
<polygon points="1124.3,806 1194.3,806 1265,806 1335.5,820 1405.8,864.24 1476.3,960.56 1476.3,1052.4 1405.8,926.4 1335.5,857.52 1265,806 1194.3,828.4 1124.3,806" fill="#a1d99b" fill-opacity="0.28"/>
<polyline points="1124.3,806 1194.3,806 1265,806 1335.5,806 1405.8,806 1476.3,873.2" fill="none" stroke="#238b45" stroke-width="1.45" stroke-linejoin="round" />
<polyline points="1124.3,806 1194.3,817.2 1265,806 1335.5,839.6 1405.8,895.6 1476.3,1007.6" fill="none" stroke="#7cc47a" stroke-width="1.2" stroke-linejoin="round" />
<line x1="1106.5" y1="793.3" x2="1106.5" y2="1065.3" stroke="#555555" stroke-width="1.3" />
<line x1="1106.5" y1="1065.3" x2="1494.3" y2="1065.3" stroke="#555555" stroke-width="1.3" />
<line x1="1100.5" y1="806" x2="1106.5" y2="806" stroke="#333" stroke-width="1.3" />
<text x="1095.5" y="812.1" font-size="16.85" text-anchor="end" fill="#1a1a1a" font-family="'DejaVu Sans','Liberation Sans',sans-serif" font-weight="normal"  stroke="#1a1a1a" stroke-width="0.28">1.00</text>
<line x1="1100.5" y1="918" x2="1106.5" y2="918" stroke="#333" stroke-width="1.3" />
<text x="1095.5" y="924.1" font-size="16.85" text-anchor="end" fill="#1a1a1a" font-family="'DejaVu Sans','Liberation Sans',sans-serif" font-weight="normal"  stroke="#1a1a1a" stroke-width="0.28">0.96</text>
<line x1="1100.5" y1="1030" x2="1106.5" y2="1030" stroke="#333" stroke-width="1.3" />
<text x="1095.5" y="1036.1" font-size="16.85" text-anchor="end" fill="#1a1a1a" font-family="'DejaVu Sans','Liberation Sans',sans-serif" font-weight="normal"  stroke="#1a1a1a" stroke-width="0.28">0.92</text>
<line x1="1124.3" y1="1065.3" x2="1124.3" y2="1071.3" stroke="#333" stroke-width="1.3" />
<text x="1124.3" y="1089.8" font-size="16.85" text-anchor="middle" fill="#1a1a1a" font-family="'DejaVu Sans','Liberation Sans',sans-serif" font-weight="normal"  stroke="#1a1a1a" stroke-width="0.28">1</text>
<line x1="1194.3" y1="1065.3" x2="1194.3" y2="1071.3" stroke="#333" stroke-width="1.3" />
<text x="1194.3" y="1089.8" font-size="16.85" text-anchor="middle" fill="#1a1a1a" font-family="'DejaVu Sans','Liberation Sans',sans-serif" font-weight="normal"  stroke="#1a1a1a" stroke-width="0.28">2</text>
<line x1="1265" y1="1065.3" x2="1265" y2="1071.3" stroke="#333" stroke-width="1.3" />
<text x="1265" y="1089.8" font-size="16.85" text-anchor="middle" fill="#1a1a1a" font-family="'DejaVu Sans','Liberation Sans',sans-serif" font-weight="normal"  stroke="#1a1a1a" stroke-width="0.28">5</text>
<line x1="1335.5" y1="1065.3" x2="1335.5" y2="1071.3" stroke="#333" stroke-width="1.3" />
<text x="1335.5" y="1089.8" font-size="16.85" text-anchor="middle" fill="#1a1a1a" font-family="'DejaVu Sans','Liberation Sans',sans-serif" font-weight="normal"  stroke="#1a1a1a" stroke-width="0.28">7</text>
<line x1="1405.8" y1="1065.3" x2="1405.8" y2="1071.3" stroke="#333" stroke-width="1.3" />
<text x="1405.8" y="1089.8" font-size="16.85" text-anchor="middle" fill="#1a1a1a" font-family="'DejaVu Sans','Liberation Sans',sans-serif" font-weight="normal"  stroke="#1a1a1a" stroke-width="0.28">10</text>
<line x1="1476.3" y1="1065.3" x2="1476.3" y2="1071.3" stroke="#333" stroke-width="1.3" />
<text x="1476.3" y="1089.8" font-size="16.85" text-anchor="middle" fill="#1a1a1a" font-family="'DejaVu Sans','Liberation Sans',sans-serif" font-weight="normal"  stroke="#1a1a1a" stroke-width="0.28">15</text>
<text x="1300" y="1112.5" font-size="16.85" text-anchor="middle" fill="#1a1a1a" font-family="'DejaVu Sans','Liberation Sans',sans-serif" font-weight="normal"  stroke="#1a1a1a" stroke-width="0.28">Variance</text>
<polygon points="1628.3,840.6 1698.7,840.6 1769.1,840.6 1839.7,840.6 1910.1,842.2 1981,886.37 1981,915.94 1910.1,853.25 1839.7,840.6 1769.1,840.6 1698.7,840.6 1628.3,840.6" fill="#3b7a3b" fill-opacity="0.24"/>
<polygon points="1628.3,805.69 1698.7,809.97 1769.1,824.57 1839.7,814.78 1910.1,852.89 1981,978.27 1981,1054.5 1910.1,923.06 1839.7,884.95 1769.1,894.74 1698.7,880.49 1628.3,875.51" fill="#a1d99b" fill-opacity="0.28"/>
<polyline points="1628.3,840.6 1698.7,840.6 1769.1,840.6 1839.7,840.6 1910.1,847.72 1981,901.15" fill="none" stroke="#238b45" stroke-width="1.45" stroke-linejoin="round" />
<polyline points="1628.3,840.6 1698.7,845.23 1769.1,859.66 1839.7,849.86 1910.1,887.97 1981,1016.38" fill="none" stroke="#7cc47a" stroke-width="1.2" stroke-linejoin="round" />
<line x1="1610.8" y1="793.2" x2="1610.8" y2="1065.5" stroke="#555555" stroke-width="1.3" />
<line x1="1610.8" y1="1065.5" x2="1999" y2="1065.5" stroke="#555555" stroke-width="1.3" />
<line x1="1604.8" y1="840.6" x2="1610.8" y2="840.6" stroke="#333" stroke-width="1.3" />
<text x="1599.8" y="846.7" font-size="16.85" text-anchor="end" fill="#1a1a1a" font-family="'DejaVu Sans','Liberation Sans',sans-serif" font-weight="normal"  stroke="#1a1a1a" stroke-width="0.28">1.00</text>
<line x1="1604.8" y1="911.84" x2="1610.8" y2="911.84" stroke="#333" stroke-width="1.3" />
<text x="1599.8" y="917.94" font-size="16.85" text-anchor="end" fill="#1a1a1a" font-family="'DejaVu Sans','Liberation Sans',sans-serif" font-weight="normal"  stroke="#1a1a1a" stroke-width="0.28">0.96</text>
<line x1="1604.8" y1="983.08" x2="1610.8" y2="983.08" stroke="#333" stroke-width="1.3" />
<text x="1599.8" y="989.18" font-size="16.85" text-anchor="end" fill="#1a1a1a" font-family="'DejaVu Sans','Liberation Sans',sans-serif" font-weight="normal"  stroke="#1a1a1a" stroke-width="0.28">0.92</text>
<line x1="1604.8" y1="1054.32" x2="1610.8" y2="1054.32" stroke="#333" stroke-width="1.3" />
<text x="1599.8" y="1060.42" font-size="16.85" text-anchor="end" fill="#1a1a1a" font-family="'DejaVu Sans','Liberation Sans',sans-serif" font-weight="normal"  stroke="#1a1a1a" stroke-width="0.28">0.88</text>
<line x1="1628.3" y1="1065.5" x2="1628.3" y2="1071.5" stroke="#333" stroke-width="1.3" />
<text x="1628.3" y="1090" font-size="16.85" text-anchor="middle" fill="#1a1a1a" font-family="'DejaVu Sans','Liberation Sans',sans-serif" font-weight="normal"  stroke="#1a1a1a" stroke-width="0.28">1</text>
<line x1="1698.7" y1="1065.5" x2="1698.7" y2="1071.5" stroke="#333" stroke-width="1.3" />
<text x="1698.7" y="1090" font-size="16.85" text-anchor="middle" fill="#1a1a1a" font-family="'DejaVu Sans','Liberation Sans',sans-serif" font-weight="normal"  stroke="#1a1a1a" stroke-width="0.28">2</text>
<line x1="1769.1" y1="1065.5" x2="1769.1" y2="1071.5" stroke="#333" stroke-width="1.3" />
<text x="1769.1" y="1090" font-size="16.85" text-anchor="middle" fill="#1a1a1a" font-family="'DejaVu Sans','Liberation Sans',sans-serif" font-weight="normal"  stroke="#1a1a1a" stroke-width="0.28">5</text>
<line x1="1839.7" y1="1065.5" x2="1839.7" y2="1071.5" stroke="#333" stroke-width="1.3" />
<text x="1839.7" y="1090" font-size="16.85" text-anchor="middle" fill="#1a1a1a" font-family="'DejaVu Sans','Liberation Sans',sans-serif" font-weight="normal"  stroke="#1a1a1a" stroke-width="0.28">7</text>
<line x1="1910.1" y1="1065.5" x2="1910.1" y2="1071.5" stroke="#333" stroke-width="1.3" />
<text x="1910.1" y="1090" font-size="16.85" text-anchor="middle" fill="#1a1a1a" font-family="'DejaVu Sans','Liberation Sans',sans-serif" font-weight="normal"  stroke="#1a1a1a" stroke-width="0.28">10</text>
<line x1="1981" y1="1065.5" x2="1981" y2="1071.5" stroke="#333" stroke-width="1.3" />
<text x="1981" y="1090" font-size="16.85" text-anchor="middle" fill="#1a1a1a" font-family="'DejaVu Sans','Liberation Sans',sans-serif" font-weight="normal"  stroke="#1a1a1a" stroke-width="0.28">15</text>
<text x="-1.5" y="35.3" font-size="45" text-anchor="start" fill="#000" font-family="'Liberation Sans','DejaVu Sans',sans-serif" font-weight="bold" >a</text>
<text x="482.6" y="35.1" font-size="45" text-anchor="start" fill="#000" font-family="'Liberation Sans','DejaVu Sans',sans-serif" font-weight="bold" >b</text>
<text x="-0.8" y="399.5" font-size="45" text-anchor="start" fill="#000" font-family="'Liberation Sans','DejaVu Sans',sans-serif" font-weight="bold" >c</text>
<text x="486" y="397.3" font-size="45" text-anchor="start" fill="#000" font-family="'Liberation Sans','DejaVu Sans',sans-serif" font-weight="bold" >d</text>
<text x="1.1" y="777.5" font-size="45" text-anchor="start" fill="#000" font-family="'Liberation Sans','DejaVu Sans',sans-serif" font-weight="bold" >e</text>
<text x="488" y="780.3" font-size="45" text-anchor="start" fill="#000" font-family="'Liberation Sans','DejaVu Sans',sans-serif" font-weight="bold" >f</text>
<text x="4.2" y="1145.6" font-size="45" text-anchor="start" fill="#000" font-family="'Liberation Sans','DejaVu Sans',sans-serif" font-weight="bold" >g</text>
<text x="486.7" y="1147.8" font-size="45" text-anchor="start" fill="#000" font-family="'Liberation Sans','DejaVu Sans',sans-serif" font-weight="bold" >h</text>
<line x1="93.5" y1="413.3" x2="93.5" y2="683.1" stroke="#555555" stroke-width="1.3" />
<line x1="93.5" y1="683.1" x2="247.5" y2="683.1" stroke="#555555" stroke-width="1.3" />
<line x1="87.5" y1="670.2" x2="93.5" y2="670.2" stroke="#333" stroke-width="1.3" />
<text x="82.5" y="676.3" font-size="16.85" text-anchor="end" fill="#1a1a1a" font-family="'DejaVu Sans','Liberation Sans',sans-serif" font-weight="normal"  stroke="#1a1a1a" stroke-width="0.28">0</text>
<line x1="87.5" y1="618.88" x2="93.5" y2="618.88" stroke="#333" stroke-width="1.3" />
<text x="82.5" y="624.98" font-size="16.85" text-anchor="end" fill="#1a1a1a" font-family="'DejaVu Sans','Liberation Sans',sans-serif" font-weight="normal"  stroke="#1a1a1a" stroke-width="0.28">20</text>
<line x1="87.5" y1="567.56" x2="93.5" y2="567.56" stroke="#333" stroke-width="1.3" />
<text x="82.5" y="573.66" font-size="16.85" text-anchor="end" fill="#1a1a1a" font-family="'DejaVu Sans','Liberation Sans',sans-serif" font-weight="normal"  stroke="#1a1a1a" stroke-width="0.28">40</text>
<line x1="87.5" y1="516.24" x2="93.5" y2="516.24" stroke="#333" stroke-width="1.3" />
<text x="82.5" y="522.34" font-size="16.85" text-anchor="end" fill="#1a1a1a" font-family="'DejaVu Sans','Liberation Sans',sans-serif" font-weight="normal"  stroke="#1a1a1a" stroke-width="0.28">60</text>
<line x1="87.5" y1="464.92" x2="93.5" y2="464.92" stroke="#333" stroke-width="1.3" />
<text x="82.5" y="471.02" font-size="16.85" text-anchor="end" fill="#1a1a1a" font-family="'DejaVu Sans','Liberation Sans',sans-serif" font-weight="normal"  stroke="#1a1a1a" stroke-width="0.28">80</text>
<line x1="87.5" y1="413.6" x2="93.5" y2="413.6" stroke="#333" stroke-width="1.3" />
<text x="82.5" y="419.7" font-size="16.85" text-anchor="end" fill="#1a1a1a" font-family="'DejaVu Sans','Liberation Sans',sans-serif" font-weight="normal"  stroke="#1a1a1a" stroke-width="0.28">100</text>
<line x1="123.7" y1="683.1" x2="123.7" y2="689.1" stroke="#333" stroke-width="1.3" />
<text x="123.7" y="707.6" font-size="16.85" text-anchor="middle" fill="#1a1a1a" font-family="'DejaVu Sans','Liberation Sans',sans-serif" font-weight="normal"  stroke="#1a1a1a" stroke-width="0.28">0%</text>
<line x1="217.2" y1="683.1" x2="217.2" y2="689.1" stroke="#333" stroke-width="1.3" />
<text x="217.2" y="707.6" font-size="16.85" text-anchor="middle" fill="#1a1a1a" font-family="'DejaVu Sans','Liberation Sans',sans-serif" font-weight="normal"  stroke="#1a1a1a" stroke-width="0.28">100%</text>
<rect x="100.4" y="503.15" width="46.6" height="167.05" fill="#dbe0f1" />
<rect x="193.9" y="434.13" width="46.6" height="236.07" fill="#dbe0f1" />
<line x1="123.7" y1="503.15" x2="217.2" y2="434.13" stroke="#c5cfee" stroke-width="1.4" />
<line x1="123.7" y1="495.46" x2="123.7" y2="510.85" stroke="#3d3d3d" stroke-width="1.6" />
<line x1="118.8" y1="495.46" x2="128.6" y2="495.46" stroke="#3d3d3d" stroke-width="1.6" />
<line x1="118.8" y1="510.85" x2="128.6" y2="510.85" stroke="#3d3d3d" stroke-width="1.6" />
<line x1="217.2" y1="426.43" x2="217.2" y2="441.83" stroke="#3d3d3d" stroke-width="1.6" />
<line x1="212.3" y1="426.43" x2="222.1" y2="426.43" stroke="#3d3d3d" stroke-width="1.6" />
<line x1="212.3" y1="441.83" x2="222.1" y2="441.83" stroke="#3d3d3d" stroke-width="1.6" />
<text x="170.7" y="404" font-size="20.3" text-anchor="middle" fill="#1a1a1a" font-family="'DejaVu Sans','Liberation Sans',sans-serif" font-weight="normal"  stroke="#1a1a1a" stroke-width="0.28">Allocentric</text>
<line x1="297.3" y1="413.3" x2="297.3" y2="683.1" stroke="#555555" stroke-width="1.3" />
<line x1="297.3" y1="683.1" x2="451.6" y2="683.1" stroke="#555555" stroke-width="1.3" />
<line x1="291.3" y1="670.2" x2="297.3" y2="670.2" stroke="#333" stroke-width="1.3" />
<text x="286.3" y="676.3" font-size="16.85" text-anchor="end" fill="#1a1a1a" font-family="'DejaVu Sans','Liberation Sans',sans-serif" font-weight="normal"  stroke="#1a1a1a" stroke-width="0.28">0</text>
<line x1="291.3" y1="618.88" x2="297.3" y2="618.88" stroke="#333" stroke-width="1.3" />
<text x="286.3" y="624.98" font-size="16.85" text-anchor="end" fill="#1a1a1a" font-family="'DejaVu Sans','Liberation Sans',sans-serif" font-weight="normal"  stroke="#1a1a1a" stroke-width="0.28">20</text>
<line x1="291.3" y1="567.56" x2="297.3" y2="567.56" stroke="#333" stroke-width="1.3" />
<text x="286.3" y="573.66" font-size="16.85" text-anchor="end" fill="#1a1a1a" font-family="'DejaVu Sans','Liberation Sans',sans-serif" font-weight="normal"  stroke="#1a1a1a" stroke-width="0.28">40</text>
<line x1="291.3" y1="516.24" x2="297.3" y2="516.24" stroke="#333" stroke-width="1.3" />
<text x="286.3" y="522.34" font-size="16.85" text-anchor="end" fill="#1a1a1a" font-family="'DejaVu Sans','Liberation Sans',sans-serif" font-weight="normal"  stroke="#1a1a1a" stroke-width="0.28">60</text>
<line x1="291.3" y1="464.92" x2="297.3" y2="464.92" stroke="#333" stroke-width="1.3" />
<text x="286.3" y="471.02" font-size="16.85" text-anchor="end" fill="#1a1a1a" font-family="'DejaVu Sans','Liberation Sans',sans-serif" font-weight="normal"  stroke="#1a1a1a" stroke-width="0.28">80</text>
<line x1="291.3" y1="413.6" x2="297.3" y2="413.6" stroke="#333" stroke-width="1.3" />
<text x="286.3" y="419.7" font-size="16.85" text-anchor="end" fill="#1a1a1a" font-family="'DejaVu Sans','Liberation Sans',sans-serif" font-weight="normal"  stroke="#1a1a1a" stroke-width="0.28">100</text>
<line x1="327.8" y1="683.1" x2="327.8" y2="689.1" stroke="#333" stroke-width="1.3" />
<text x="327.8" y="707.6" font-size="16.85" text-anchor="middle" fill="#1a1a1a" font-family="'DejaVu Sans','Liberation Sans',sans-serif" font-weight="normal"  stroke="#1a1a1a" stroke-width="0.28">0%</text>
<line x1="421.2" y1="683.1" x2="421.2" y2="689.1" stroke="#333" stroke-width="1.3" />
<text x="421.2" y="707.6" font-size="16.85" text-anchor="middle" fill="#1a1a1a" font-family="'DejaVu Sans','Liberation Sans',sans-serif" font-weight="normal"  stroke="#1a1a1a" stroke-width="0.28">100%</text>
<rect x="304.5" y="462.61" width="46.6" height="207.59" fill="#a3b4dd" />
<rect x="397.9" y="457.22" width="46.6" height="212.98" fill="#a3b4dd" />
<line x1="327.8" y1="462.61" x2="421.2" y2="457.22" stroke="#7f9bd6" stroke-width="1.4" />
<line x1="327.8" y1="454.91" x2="327.8" y2="470.31" stroke="#3d3d3d" stroke-width="1.6" />
<line x1="322.9" y1="454.91" x2="332.7" y2="454.91" stroke="#3d3d3d" stroke-width="1.6" />
<line x1="322.9" y1="470.31" x2="332.7" y2="470.31" stroke="#3d3d3d" stroke-width="1.6" />
<line x1="421.2" y1="444.39" x2="421.2" y2="470.05" stroke="#3d3d3d" stroke-width="1.6" />
<line x1="416.3" y1="444.39" x2="426.1" y2="444.39" stroke="#3d3d3d" stroke-width="1.6" />
<line x1="416.3" y1="470.05" x2="426.1" y2="470.05" stroke="#3d3d3d" stroke-width="1.6" />
<text x="374.8" y="404" font-size="20.3" text-anchor="middle" fill="#1a1a1a" font-family="'DejaVu Sans','Liberation Sans',sans-serif" font-weight="normal"  stroke="#1a1a1a" stroke-width="0.28">Egocentric</text>
<polyline points="140.4,431.8 140.4,430.5 197.3,430.5 197.3,431.8" fill="none" stroke="#777" stroke-width="1.3"/>
<text x="167" y="433.5" font-size="23" text-anchor="middle" fill="#1a1a1a" font-family="'DejaVu Sans','Liberation Sans',sans-serif" font-weight="normal"  stroke="#1a1a1a" stroke-width="0.28">***</text>
<polyline points="344.6,445.6 344.6,444.3 401.2,444.3 401.2,445.6" fill="none" stroke="#999" stroke-width="1.3"/>
<text x="372.9" y="433.4" font-size="23" text-anchor="middle" fill="#1a1a1a" font-family="'DejaVu Sans','Liberation Sans',sans-serif" font-weight="normal"  stroke="#1a1a1a" stroke-width="0.28">ns</text>
<text x="40.5" y="549" font-size="16.85" text-anchor="middle" fill="#1a1a1a" stroke="#1a1a1a" stroke-width="0.28" font-family="'DejaVu Sans','Liberation Sans',sans-serif" transform="rotate(-90 40.5 549)">Performance (%)</text>
<text x="271.7" y="728.4" font-size="16.85" text-anchor="middle" fill="#1a1a1a" font-family="'DejaVu Sans','Liberation Sans',sans-serif" font-weight="normal"  stroke="#1a1a1a" stroke-width="0.28">Cues</text>
<line x1="129.8" y1="782.4" x2="129.8" y2="1065.6" stroke="#555555" stroke-width="1.3" />
<line x1="129.8" y1="1065.6" x2="439.5" y2="1065.6" stroke="#555555" stroke-width="1.3" />
<line x1="123.8" y1="1065.2" x2="129.8" y2="1065.2" stroke="#333" stroke-width="1.3" />
<text x="118.8" y="1071.3" font-size="16.85" text-anchor="end" fill="#1a1a1a" font-family="'DejaVu Sans','Liberation Sans',sans-serif" font-weight="normal"  stroke="#1a1a1a" stroke-width="0.28">30</text>
<line x1="123.8" y1="1011.64" x2="129.8" y2="1011.64" stroke="#333" stroke-width="1.3" />
<text x="118.8" y="1017.74" font-size="16.85" text-anchor="end" fill="#1a1a1a" font-family="'DejaVu Sans','Liberation Sans',sans-serif" font-weight="normal"  stroke="#1a1a1a" stroke-width="0.28">40</text>
<line x1="123.8" y1="958.08" x2="129.8" y2="958.08" stroke="#333" stroke-width="1.3" />
<text x="118.8" y="964.18" font-size="16.85" text-anchor="end" fill="#1a1a1a" font-family="'DejaVu Sans','Liberation Sans',sans-serif" font-weight="normal"  stroke="#1a1a1a" stroke-width="0.28">50</text>
<line x1="123.8" y1="904.52" x2="129.8" y2="904.52" stroke="#333" stroke-width="1.3" />
<text x="118.8" y="910.62" font-size="16.85" text-anchor="end" fill="#1a1a1a" font-family="'DejaVu Sans','Liberation Sans',sans-serif" font-weight="normal"  stroke="#1a1a1a" stroke-width="0.28">60</text>
<line x1="123.8" y1="850.96" x2="129.8" y2="850.96" stroke="#333" stroke-width="1.3" />
<text x="118.8" y="857.06" font-size="16.85" text-anchor="end" fill="#1a1a1a" font-family="'DejaVu Sans','Liberation Sans',sans-serif" font-weight="normal"  stroke="#1a1a1a" stroke-width="0.28">70</text>
<line x1="123.8" y1="797.4" x2="129.8" y2="797.4" stroke="#333" stroke-width="1.3" />
<text x="118.8" y="803.5" font-size="16.85" text-anchor="end" fill="#1a1a1a" font-family="'DejaVu Sans','Liberation Sans',sans-serif" font-weight="normal"  stroke="#1a1a1a" stroke-width="0.28">80</text>
<line x1="183.8" y1="1065.6" x2="183.8" y2="1071.6" stroke="#333" stroke-width="1.3" />
<text x="183.8" y="1090.1" font-size="16.85" text-anchor="middle" fill="#1a1a1a" font-family="'DejaVu Sans','Liberation Sans',sans-serif" font-weight="normal"  stroke="#1a1a1a" stroke-width="0.28">hcDRQN</text>
<line x1="385.2" y1="1065.6" x2="385.2" y2="1071.6" stroke="#333" stroke-width="1.3" />
<text x="385.2" y="1090.1" font-size="16.85" text-anchor="middle" fill="#1a1a1a" font-family="'DejaVu Sans','Liberation Sans',sans-serif" font-weight="normal"  stroke="#1a1a1a" stroke-width="0.28">hcDQN</text>
<rect x="143.6" y="843.46" width="80.4" height="221.74" fill="#80ad80" />
<rect x="345" y="972.54" width="80.4" height="92.66" fill="#c3e2b6" />
<circle cx="172.4" cy="834" r="5.3" fill="#3a9350" fill-opacity="0.75" stroke="#fff" stroke-opacity="0.8" stroke-width="0.8"/>
<circle cx="188.9" cy="832.6" r="5.3" fill="#3a9350" fill-opacity="0.75" stroke="#fff" stroke-opacity="0.8" stroke-width="0.8"/>
<circle cx="180.1" cy="835.8" r="5.3" fill="#3a9350" fill-opacity="0.75" stroke="#fff" stroke-opacity="0.8" stroke-width="0.8"/>
<circle cx="176.3" cy="839.6" r="5.3" fill="#3a9350" fill-opacity="0.75" stroke="#fff" stroke-opacity="0.8" stroke-width="0.8"/>
<circle cx="186.4" cy="841" r="5.3" fill="#3a9350" fill-opacity="0.75" stroke="#fff" stroke-opacity="0.8" stroke-width="0.8"/>
<circle cx="185" cy="846.3" r="5.3" fill="#3a9350" fill-opacity="0.75" stroke="#fff" stroke-opacity="0.8" stroke-width="0.8"/>
<circle cx="180.5" cy="847.7" r="5.3" fill="#3a9350" fill-opacity="0.75" stroke="#fff" stroke-opacity="0.8" stroke-width="0.8"/>
<circle cx="191" cy="850.5" r="5.3" fill="#3a9350" fill-opacity="0.75" stroke="#fff" stroke-opacity="0.8" stroke-width="0.8"/>
<circle cx="190.3" cy="854.3" r="5.3" fill="#3a9350" fill-opacity="0.75" stroke="#fff" stroke-opacity="0.8" stroke-width="0.8"/>
<circle cx="180.5" cy="857.8" r="5.3" fill="#3a9350" fill-opacity="0.75" stroke="#fff" stroke-opacity="0.8" stroke-width="0.8"/>
<circle cx="391.2" cy="947.2" r="5.3" fill="#a3d89a" fill-opacity="0.75" stroke="#fff" stroke-opacity="0.8" stroke-width="0.8"/>
<circle cx="384.4" cy="956.3" r="5.3" fill="#a3d89a" fill-opacity="0.75" stroke="#fff" stroke-opacity="0.8" stroke-width="0.8"/>
<circle cx="378.4" cy="962.5" r="5.3" fill="#a3d89a" fill-opacity="0.75" stroke="#fff" stroke-opacity="0.8" stroke-width="0.8"/>
<circle cx="383.4" cy="970.3" r="5.3" fill="#a3d89a" fill-opacity="0.75" stroke="#fff" stroke-opacity="0.8" stroke-width="0.8"/>
<circle cx="383" cy="975.8" r="5.3" fill="#a3d89a" fill-opacity="0.75" stroke="#fff" stroke-opacity="0.8" stroke-width="0.8"/>
<circle cx="374.7" cy="977.6" r="5.3" fill="#a3d89a" fill-opacity="0.75" stroke="#fff" stroke-opacity="0.8" stroke-width="0.8"/>
<circle cx="394.9" cy="976.3" r="5.3" fill="#a3d89a" fill-opacity="0.75" stroke="#fff" stroke-opacity="0.8" stroke-width="0.8"/>
<circle cx="384.8" cy="987.7" r="5.3" fill="#a3d89a" fill-opacity="0.75" stroke="#fff" stroke-opacity="0.8" stroke-width="0.8"/>
<circle cx="377.5" cy="995" r="5.3" fill="#a3d89a" fill-opacity="0.75" stroke="#fff" stroke-opacity="0.8" stroke-width="0.8"/>
<line x1="163.7" y1="843.46" x2="203.4" y2="843.46" stroke="#1f8b3f" stroke-width="1.6" />
<line x1="365" y1="972.54" x2="404.8" y2="972.54" stroke="#9bd394" stroke-width="1.6" />
<line x1="183.8" y1="841.32" x2="183.8" y2="845.6" stroke="#222" stroke-width="1.7" />
<line x1="177.2" y1="841.32" x2="190.4" y2="841.32" stroke="#222" stroke-width="1.7" />
<line x1="177.2" y1="845.6" x2="190.4" y2="845.6" stroke="#222" stroke-width="1.7" />
<line x1="385" y1="968.26" x2="385" y2="977.36" stroke="#222" stroke-width="1.7" />
<line x1="378.2" y1="968.26" x2="391.8" y2="968.26" stroke="#222" stroke-width="1.7" />
<line x1="378.2" y1="977.36" x2="391.8" y2="977.36" stroke="#222" stroke-width="1.7" />
<polyline points="183.8,817 183.8,811.2 385.2,811.2 385.2,817" fill="none" stroke="#666" stroke-width="1.3"/>
<text x="284.5" y="806" font-size="17" text-anchor="middle" fill="#1a1a1a" font-family="'DejaVu Sans','Liberation Sans',sans-serif" font-weight="normal"  stroke="#1a1a1a" stroke-width="0.28">****</text>
<text x="284.5" y="772.7" font-size="20.3" text-anchor="middle" fill="#1a1a1a" font-family="'DejaVu Sans','Liberation Sans',sans-serif" font-weight="normal"  stroke="#1a1a1a" stroke-width="0.28">Overall</text>
<text x="69" y="922.8" font-size="16.85" text-anchor="middle" fill="#1a1a1a" stroke="#1a1a1a" stroke-width="0.28" font-family="'DejaVu Sans','Liberation Sans',sans-serif" transform="rotate(-90 69 922.8)">Performance (%)</text>
<rect x="95.5" y="48.7" width="275.2" height="275.4" fill="#404042" stroke="#1c1a1a" stroke-width="1"/>
<rect x="184" y="72" width="100" height="99.5" fill="#7b7b7d" />
<rect x="217" y="72" width="34" height="194.4" fill="#e6e7e8" />
<line x1="217" y1="105.2" x2="251" y2="105.2" stroke="#f7f7f7" stroke-width="1.2" />
<line x1="217" y1="137.6" x2="251" y2="137.6" stroke="#f7f7f7" stroke-width="1.2" />
<line x1="217" y1="170.4" x2="251" y2="170.4" stroke="#f7f7f7" stroke-width="1.2" />
<line x1="217" y1="202.4" x2="251" y2="202.4" stroke="#f7f7f7" stroke-width="1.2" />
<line x1="217" y1="234.6" x2="251" y2="234.6" stroke="#f7f7f7" stroke-width="1.2" />
<line x1="217.6" y1="72" x2="217.6" y2="266.4" stroke="#f2f2f2" stroke-width="1.2" />
<rect x="121" y="266.4" width="227" height="33.6" fill="#d1d2d4" stroke="#f0f0f0" stroke-width="1.2"/>
<line x1="153.4" y1="266.4" x2="153.4" y2="300" stroke="#f7f7f7" stroke-width="1.2" />
<line x1="185.6" y1="266.4" x2="185.6" y2="300" stroke="#f7f7f7" stroke-width="1.2" />
<line x1="218" y1="266.4" x2="218" y2="300" stroke="#f7f7f7" stroke-width="1.2" />
<line x1="250.7" y1="266.4" x2="250.7" y2="300" stroke="#f7f7f7" stroke-width="1.2" />
<line x1="282.5" y1="266.4" x2="282.5" y2="300" stroke="#f7f7f7" stroke-width="1.2" />
<line x1="314.9" y1="266.4" x2="314.9" y2="300" stroke="#f7f7f7" stroke-width="1.2" />
<rect x="251.6" y="72.2" width="32" height="32.4" fill="#ea5a47" stroke="#111" stroke-width="1.3"/>
<rect x="184.6" y="106.1" width="31.8" height="32" fill="#8fd3f3" stroke="#111" stroke-width="1.3"/>
<g transform="translate(184.1,72.1) scale(1.0)" stroke="#111" stroke-width="1.4" stroke-linejoin="miter">
<path d="M13.0,12.1 L1.3,23.4 L1.4,28.3 L6.6,28.3 L6.6,25.5 L10.4,25.5 L10.4,21.5 L14.9,21.5 L14.9,16.8 L18.2,16.8 L18.2,14.0 Z" fill="#f5ad40"/>
<circle cx="22.7" cy="7.4" r="7.4" fill="#f5ad40"/>
<path d="M13.6,12.9 L17.6,15.6 L20.5,12.5 L16.5,9.2 Z" fill="#f5ad40" stroke="none"/>
<circle cx="24.55" cy="5.7" r="2.3" fill="#ee7d24" stroke-width="1.5"/>
</g>
<g transform="translate(216,70) scale(1.0)" fill="none" stroke="#151515" stroke-width="1.1" stroke-linecap="round">
<path d="M8.6,15.0 A5.9,5.6 0 1 1 16.3,10.0"/>
<path d="M21.5,10.0 A5.9,5.6 0 1 1 29.2,15.0"/>
<path d="M11.3,12.6 Q18.9,7.6 26.5,12.6"/>
<path d="M8.4,15.0 Q6.8,22 11.2,28.8 Q15,32.4 18.9,32.4 Q22.8,32.4 26.6,28.8 Q31,22 29.4,15.0"/>
<circle cx="13.7" cy="19.6" r="3.5" fill="#fff"/><circle cx="24.4" cy="19.6" r="3.5" fill="#fff"/>
<circle cx="13.9" cy="20.5" r="0.95" fill="#111" stroke="none"/><circle cx="24.2" cy="20.5" r="0.95" fill="#111" stroke="none"/>
<ellipse cx="18.9" cy="26.2" rx="2.8" ry="1.9" fill="#fff"/>
<path d="M18.9,28.1 V32.2"/>
<path d="M4.6,26.5 L7.8,26.2 M8.3,32.4 L11.3,29.4 M33.2,26.5 L30,26.2 M29.5,32.4 L26.5,29.4"/>
</g>
<g stroke="#ea5a47" stroke-width="7.2" stroke-linecap="butt">
<line x1="124.5" y1="270.9" x2="150" y2="296.9"/>
<line x1="150" y1="270.9" x2="124.5" y2="296.9"/>
</g>
<g transform="translate(313,264) scale(1.0)" stroke="#111" stroke-width="1.3" stroke-linejoin="round" fill="none">
<path d="M8.7,6.3 C2.6,5.0 2.0,9.6 5.6,12.4 L10.7,15.9"/>
<path d="M27.1,6.3 C33.2,5.0 33.8,9.6 30.2,12.4 L25.1,15.9"/>
<path d="M8.4,4.6 L27.4,4.6 L25.6,14.5 C24.5,19.5 21.2,22.4 17.9,22.4 C14.6,22.4 11.3,19.5 10.2,14.5 Z" fill="#f9e51f" stroke="none"/>
<path d="M21.3,4.6 L27.4,4.6 L25.6,14.5 C24.6,19 22.6,21.6 20.6,22.1 C21.6,17 21.8,11 21.3,4.6 Z" fill="#f2b423" stroke="none"/>
<path d="M8.4,4.6 L27.4,4.6 L25.6,14.5 C24.5,19.5 21.2,22.4 17.9,22.4 C14.6,22.4 11.3,19.5 10.2,14.5 Z"/>
<circle cx="17.9" cy="11.7" r="3.0" fill="#f2b423"/>
<line x1="17.9" y1="22.4" x2="17.9" y2="27.1" stroke="#222" stroke-width="1.4"/>
<rect x="12.2" y="27.1" width="11.7" height="6.2" fill="#f9e51f"/>
<rect x="19.8" y="27.8" width="3.4" height="4.8" fill="#f2b423" stroke="none"/>
</g>
<line x1="269.3" y1="146" x2="269.3" y2="238" stroke="#fff" stroke-width="2.4" />
<polygon points="269.3,130.3 282,153.3 269.3,148.5 256.6,153.3" fill="#fff" />
<polygon points="269.3,254 282,231 269.3,235.8 256.6,231" fill="#fff" />
<text x="317.5" y="67.6" font-size="17" text-anchor="middle" fill="#fff" font-family="'Liberation Sans','DejaVu Sans',sans-serif" font-weight="normal" >cue removal</text>
<text x="139" y="88" font-size="17" text-anchor="middle" fill="#fff" font-family="'Liberation Sans','DejaVu Sans',sans-serif" font-weight="normal" >cue noise</text>
<text x="138.6" y="133" font-size="17.4" text-anchor="middle" fill="#fff" font-family="'Liberation Sans','DejaVu Sans',sans-serif" font-weight="normal" textLength="72.5" lengthAdjust="spacingAndGlyphs">distractor</text>
<text x="321" y="201.8" font-size="16.6" text-anchor="middle" fill="#fff" font-family="'Liberation Sans','DejaVu Sans',sans-serif" font-weight="normal" textLength="71.8" lengthAdjust="spacingAndGlyphs">maze size</text>
<circle cx="138.6" cy="65.4" r="11.0" fill="#fff" stroke="#1a1818" stroke-width="1.9"/>
<text x="138.6" y="72.7" font-size="21" text-anchor="middle" fill="#111" font-family="'Liberation Sans','DejaVu Sans',sans-serif" font-weight="normal" >4</text>
<circle cx="316.8" cy="81.4" r="11.0" fill="#fff" stroke="#1a1818" stroke-width="1.9"/>
<text x="316.8" y="88.7" font-size="21" text-anchor="middle" fill="#111" font-family="'Liberation Sans','DejaVu Sans',sans-serif" font-weight="normal" >2</text>
<circle cx="138.3" cy="147.2" r="11.0" fill="#fff" stroke="#1a1818" stroke-width="1.9"/>
<text x="138.3" y="154.5" font-size="21" text-anchor="middle" fill="#111" font-family="'Liberation Sans','DejaVu Sans',sans-serif" font-weight="normal" >3</text>
<circle cx="319.7" cy="215.8" r="11.0" fill="#fff" stroke="#1a1818" stroke-width="1.9"/>
<text x="319.7" y="223.1" font-size="21" text-anchor="middle" fill="#111" font-family="'Liberation Sans','DejaVu Sans',sans-serif" font-weight="normal" >1</text>
<text x="230.8" y="40" font-size="22.8" text-anchor="middle" fill="#1a1a1a" font-family="'Liberation Sans','DejaVu Sans',sans-serif" font-weight="normal" textLength="169.5" lengthAdjust="spacingAndGlyphs">T-maze variation</text>
<rect x="108.2" y="1187" width="287.3" height="287.6" fill="#676665" stroke="#f7941d" stroke-width="4"/>
<rect x="234.7" y="1229.8" width="34.8" height="102.1" fill="#e6e7e8" />
<line x1="234.7" y1="1263.8" x2="269.5" y2="1263.8" stroke="#f7f7f7" stroke-width="1.2" />
<line x1="234.7" y1="1297.8" x2="269.5" y2="1297.8" stroke="#f7f7f7" stroke-width="1.2" />
<rect x="133.2" y="1332.4" width="237.8" height="34.3" fill="#d1d2d4" stroke="#f0f0f0" stroke-width="1.2"/>
<line x1="167.2" y1="1332.4" x2="167.2" y2="1366.7" stroke="#f7f7f7" stroke-width="1.2" />
<line x1="201.1" y1="1332.4" x2="201.1" y2="1366.7" stroke="#f7f7f7" stroke-width="1.2" />
<line x1="235" y1="1332.4" x2="235" y2="1366.7" stroke="#f7f7f7" stroke-width="1.2" />
<line x1="269" y1="1332.4" x2="269" y2="1366.7" stroke="#f7f7f7" stroke-width="1.2" />
<line x1="302.9" y1="1332.4" x2="302.9" y2="1366.7" stroke="#f7f7f7" stroke-width="1.2" />
<line x1="336.9" y1="1332.4" x2="336.9" y2="1366.7" stroke="#f7f7f7" stroke-width="1.2" />
<rect x="270.2" y="1230.5" width="33" height="33" fill="#ea5a47" stroke="#111" stroke-width="1.3"/>
<g transform="translate(201.4,1231.1) scale(1.03)" stroke="#111" stroke-width="1.4" stroke-linejoin="miter">
<path d="M13.0,12.1 L1.3,23.4 L1.4,28.3 L6.6,28.3 L6.6,25.5 L10.4,25.5 L10.4,21.5 L14.9,21.5 L14.9,16.8 L18.2,16.8 L18.2,14.0 Z" fill="#f5ad40"/>
<circle cx="22.7" cy="7.4" r="7.4" fill="#f5ad40"/>
<path d="M13.6,12.9 L17.6,15.6 L20.5,12.5 L16.5,9.2 Z" fill="#f5ad40" stroke="none"/>
<circle cx="24.55" cy="5.7" r="2.3" fill="#ee7d24" stroke-width="1.5"/>
</g>
<g transform="translate(233.1,1228.3) scale(1.0)" fill="none" stroke="#151515" stroke-width="1.1" stroke-linecap="round">
<path d="M8.6,15.0 A5.9,5.6 0 1 1 16.3,10.0"/>
<path d="M21.5,10.0 A5.9,5.6 0 1 1 29.2,15.0"/>
<path d="M11.3,12.6 Q18.9,7.6 26.5,12.6"/>
<path d="M8.4,15.0 Q6.8,22 11.2,28.8 Q15,32.4 18.9,32.4 Q22.8,32.4 26.6,28.8 Q31,22 29.4,15.0"/>
<circle cx="13.7" cy="19.6" r="3.5" fill="#fff"/><circle cx="24.4" cy="19.6" r="3.5" fill="#fff"/>
<circle cx="13.9" cy="20.5" r="0.95" fill="#111" stroke="none"/><circle cx="24.2" cy="20.5" r="0.95" fill="#111" stroke="none"/>
<ellipse cx="18.9" cy="26.2" rx="2.8" ry="1.9" fill="#fff"/>
<path d="M18.9,28.1 V32.2"/>
<path d="M4.6,26.5 L7.8,26.2 M8.3,32.4 L11.3,29.4 M33.2,26.5 L30,26.2 M29.5,32.4 L26.5,29.4"/>
</g>
<g stroke="#ea5a47" stroke-width="7.2" stroke-linecap="butt">
<line x1="137" y1="1336.8" x2="162.5" y2="1362.8"/>
<line x1="162.5" y1="1336.8" x2="137" y2="1362.8"/>
</g>
<g transform="translate(335.2,1329.3) scale(1.03)" stroke="#111" stroke-width="1.3" stroke-linejoin="round" fill="none">
<path d="M8.7,6.3 C2.6,5.0 2.0,9.6 5.6,12.4 L10.7,15.9"/>
<path d="M27.1,6.3 C33.2,5.0 33.8,9.6 30.2,12.4 L25.1,15.9"/>
<path d="M8.4,4.6 L27.4,4.6 L25.6,14.5 C24.5,19.5 21.2,22.4 17.9,22.4 C14.6,22.4 11.3,19.5 10.2,14.5 Z" fill="#f9e51f" stroke="none"/>
<path d="M21.3,4.6 L27.4,4.6 L25.6,14.5 C24.6,19 22.6,21.6 20.6,22.1 C21.6,17 21.8,11 21.3,4.6 Z" fill="#f2b423" stroke="none"/>
<path d="M8.4,4.6 L27.4,4.6 L25.6,14.5 C24.5,19.5 21.2,22.4 17.9,22.4 C14.6,22.4 11.3,19.5 10.2,14.5 Z"/>
<circle cx="17.9" cy="11.7" r="3.0" fill="#f2b423"/>
<line x1="17.9" y1="22.4" x2="17.9" y2="27.1" stroke="#222" stroke-width="1.4"/>
<rect x="12.2" y="27.1" width="11.7" height="6.2" fill="#f9e51f"/>
<rect x="19.8" y="27.8" width="3.4" height="4.8" fill="#f2b423" stroke="none"/>
</g>
<text x="257.2" y="1169.6" font-size="28" text-anchor="middle" fill="#1a1a1a" font-family="'Liberation Sans','DejaVu Sans',sans-serif" font-weight="normal" word-spacing="3">Full-view T-maze</text>
</svg>
</body></html>
